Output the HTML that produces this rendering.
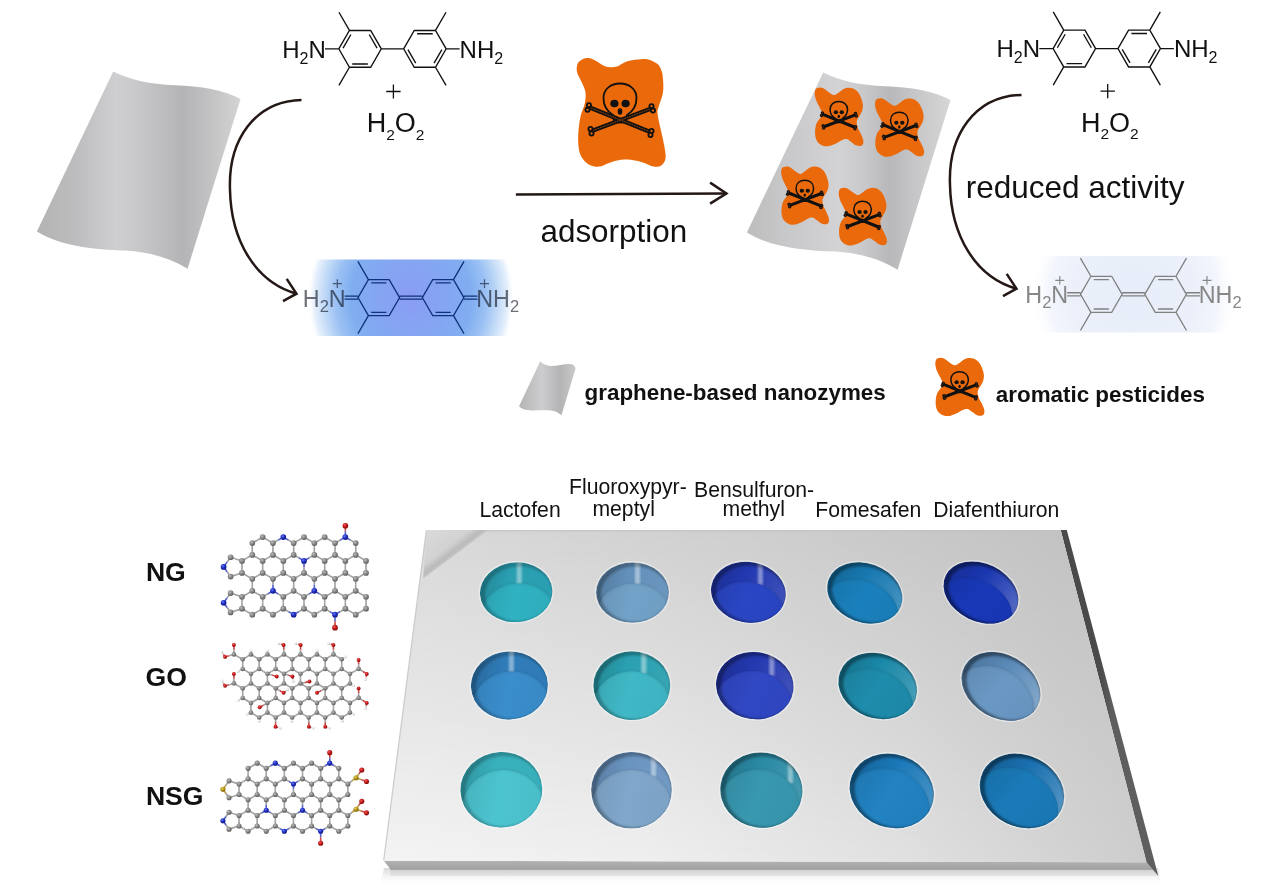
<!DOCTYPE html><html><head><meta charset="utf-8"><style>html,body{margin:0;padding:0;background:#fff;overflow:hidden;}svg{display:block;}</style></head><body><svg width="1270" height="891" viewBox="0 0 1270 891"><defs><linearGradient id="sheetG" gradientUnits="userSpaceOnUse" x1="37" y1="0" x2="241" y2="0">
<stop offset="0" stop-color="#b3b3b3"/><stop offset="0.19" stop-color="#bdbdbf"/><stop offset="0.39" stop-color="#cfcfd1"/>
<stop offset="0.52" stop-color="#c6c6c8"/><stop offset="0.715" stop-color="#b4b4b6"/><stop offset="0.81" stop-color="#bebec0"/>
<stop offset="1" stop-color="#d4d4d4"/></linearGradient><linearGradient id="sheetG2" gradientUnits="userSpaceOnUse" x1="37" y1="0" x2="241" y2="0">
<stop offset="0" stop-color="#bdbdbd"/><stop offset="0.19" stop-color="#c8c8ca"/><stop offset="0.45" stop-color="#d3d3d5"/>
<stop offset="0.58" stop-color="#c8c8ca"/><stop offset="0.70" stop-color="#b8b8ba"/><stop offset="0.82" stop-color="#c6c6c8"/>
<stop offset="1" stop-color="#d6d6d6"/></linearGradient><linearGradient id="sheetG3" gradientUnits="userSpaceOnUse" x1="519" y1="0" x2="576" y2="0">
<stop offset="0" stop-color="#b4b4b4"/><stop offset="0.4" stop-color="#cdcdcf"/><stop offset="0.72" stop-color="#b4b4b6"/>
<stop offset="1" stop-color="#cacaca"/></linearGradient><g id="skull" fill="none" stroke="#111" stroke-linecap="round">
<path d="M-7,7 C-12,4 -16.5,-2 -16.5,-10 C-16.5,-19 -9,-24.5 0,-24.5 C9,-24.5 16.5,-19 16.5,-10 C16.5,-2 12,4 7,7 L6,13.5 C3,15 -3,15 -6,13.5 Z" stroke-width="1.8"/>
<g stroke-width="4.3"><line x1="-29" y1="0" x2="29" y2="23.5"/><line x1="-27" y1="22.5" x2="30" y2="1"/></g>
<g stroke-width="0.86" stroke="#ea6a0b" stroke-opacity="0.7" stroke-dasharray="1 1.6"><line x1="-29" y1="0" x2="29" y2="23.5"/><line x1="-27" y1="22.5" x2="30" y2="1"/></g>
<g fill="#111" stroke="none">
<circle cx="-31" cy="-2.8" r="3.0"/><circle cx="-32.5" cy="1.8" r="3.0"/>
<circle cx="31.5" cy="23" r="3.0"/><circle cx="30.5" cy="27" r="3.0"/>
<circle cx="-29.5" cy="21" r="3.0"/><circle cx="-28.5" cy="25.5" r="3.0"/>
<circle cx="31.5" cy="-1.8" r="3.0"/><circle cx="33" cy="2.6" r="3.0"/>
<ellipse cx="-5.6" cy="-4.5" rx="4.1" ry="3.8"/><ellipse cx="5.6" cy="-4.5" rx="4.1" ry="3.8"/>
<ellipse cx="0" cy="3.5" rx="2.3" ry="3.2"/></g>
<g fill="#ea6a0b" stroke="none" opacity="1">
<circle cx="-31" cy="-2.8" r="1.1400000000000001"/><circle cx="-32.5" cy="1.8" r="1.1400000000000001"/>
<circle cx="31.5" cy="23" r="1.1400000000000001"/><circle cx="30.5" cy="27" r="1.1400000000000001"/>
<circle cx="-29.5" cy="21" r="1.1400000000000001"/><circle cx="-28.5" cy="25.5" r="1.1400000000000001"/>
<circle cx="31.5" cy="-1.8" r="1.1400000000000001"/><circle cx="33" cy="2.6" r="1.1400000000000001"/></g>
</g><g id="skullS" fill="none" stroke="#111" stroke-linecap="round">
<path d="M-7,7 C-12,4 -16.5,-2 -16.5,-10 C-16.5,-19 -9,-24.5 0,-24.5 C9,-24.5 16.5,-19 16.5,-10 C16.5,-2 12,4 7,7 L6,13.5 C3,15 -3,15 -6,13.5 Z" stroke-width="2.8"/>
<g stroke-width="5.8"><line x1="-29" y1="0" x2="29" y2="23.5"/><line x1="-27" y1="22.5" x2="30" y2="1"/></g>

<g fill="#111" stroke="none">
<circle cx="-31" cy="-2.8" r="3.3"/><circle cx="-32.5" cy="1.8" r="3.3"/>
<circle cx="31.5" cy="23" r="3.3"/><circle cx="30.5" cy="27" r="3.3"/>
<circle cx="-29.5" cy="21" r="3.3"/><circle cx="-28.5" cy="25.5" r="3.3"/>
<circle cx="31.5" cy="-1.8" r="3.3"/><circle cx="33" cy="2.6" r="3.3"/>
<ellipse cx="-5.6" cy="-4.5" rx="4.1" ry="3.8"/><ellipse cx="5.6" cy="-4.5" rx="4.1" ry="3.8"/>
<ellipse cx="0" cy="3.5" rx="2.3" ry="3.2"/></g>
<g fill="#ea6a0b" stroke="none" opacity="0.35">
<circle cx="-31" cy="-2.8" r="1.254"/><circle cx="-32.5" cy="1.8" r="1.254"/>
<circle cx="31.5" cy="23" r="1.254"/><circle cx="30.5" cy="27" r="1.254"/>
<circle cx="-29.5" cy="21" r="1.254"/><circle cx="-28.5" cy="25.5" r="1.254"/>
<circle cx="31.5" cy="-1.8" r="1.254"/><circle cx="33" cy="2.6" r="1.254"/></g>
</g><radialGradient id="glowB" gradientUnits="userSpaceOnUse" cx="411" cy="298" r="108" gradientTransform="translate(0,298) scale(1,1.1) translate(0,-298)">
<stop offset="0" stop-color="#8a9cf4"/><stop offset="0.35" stop-color="#84a6f2"/><stop offset="0.56" stop-color="#80aef0"/>
<stop offset="0.7" stop-color="#9cc2f4"/><stop offset="0.78" stop-color="#b8d4f6"/><stop offset="0.9" stop-color="#e6f0fc"/><stop offset="0.96" stop-color="#ffffff" stop-opacity="0"/></radialGradient><radialGradient id="glowF" gradientUnits="userSpaceOnUse" cx="1134" cy="294.3" r="108" gradientTransform="translate(0,294.3) scale(1,1.1) translate(0,-294.3)">
<stop offset="0" stop-color="#e7edf9"/><stop offset="0.56" stop-color="#ebf0fa"/><stop offset="0.78" stop-color="#f2f5fc"/><stop offset="0.96" stop-color="#ffffff" stop-opacity="0"/></radialGradient><linearGradient id="plateTop" gradientUnits="userSpaceOnUse" x1="383" y1="862" x2="834" y2="336">
<stop offset="0" stop-color="#f5f5f5"/><stop offset="0.5" stop-color="#dedede"/><stop offset="1" stop-color="#c0c0c0"/></linearGradient><linearGradient id="plateFront" gradientUnits="userSpaceOnUse" x1="0" y1="861" x2="0" y2="876">
<stop offset="0" stop-color="#b2b2b2"/><stop offset="0.56" stop-color="#a0a0a0"/><stop offset="0.6" stop-color="#d2d2d2"/><stop offset="1" stop-color="#e6e6e6"/></linearGradient><linearGradient id="plateSide" gradientUnits="userSpaceOnUse" x1="1100" y1="0" x2="1112" y2="0">
<stop offset="0" stop-color="#4a4a4a"/><stop offset="1" stop-color="#5e5e5e"/></linearGradient><linearGradient id="shadowG" gradientUnits="userSpaceOnUse" x1="0" y1="868" x2="0" y2="886">
<stop offset="0" stop-color="#d8d8d8"/><stop offset="1" stop-color="#ffffff" stop-opacity="0"/></linearGradient><filter id="blur1" x="-20%" y="-20%" width="140%" height="140%"><feGaussianBlur stdDeviation="1.2"/></filter><filter id="blur2" x="-20%" y="-20%" width="140%" height="140%"><feGaussianBlur stdDeviation="2.5"/></filter><linearGradient id="triG" gradientUnits="userSpaceOnUse" x1="426.5" y1="530.1" x2="448.7" y2="559.7">
<stop offset="0" stop-color="#dadada"/><stop offset="0.7" stop-color="#d2d2d2"/><stop offset="0.9" stop-color="#bababa"/><stop offset="1" stop-color="#c6c6c6"/></linearGradient><linearGradient id="pBot" gradientUnits="userSpaceOnUse" x1="384" y1="0" x2="1146" y2="0">
<stop offset="0" stop-color="#f4f4f4"/><stop offset="0.35" stop-color="#efefef"/><stop offset="0.68" stop-color="#e1e1e1"/><stop offset="1" stop-color="#cdcdcd"/></linearGradient>
<linearGradient id="pTop" gradientUnits="userSpaceOnUse" x1="426" y1="0" x2="1061" y2="0">
<stop offset="0" stop-color="#d8d8d8"/><stop offset="0.51" stop-color="#cecece"/><stop offset="1" stop-color="#c2c2c2"/></linearGradient>
<linearGradient id="vmaskG" gradientUnits="userSpaceOnUse" x1="0" y1="530" x2="0" y2="862"><stop offset="0" stop-color="#fff"/><stop offset="1" stop-color="#000"/></linearGradient>
<mask id="mTop" maskUnits="userSpaceOnUse" x="370" y="520" width="800" height="360"><rect x="370" y="520" width="800" height="360" fill="url(#vmaskG)"/></mask><clipPath id="wc0"><ellipse cx="516.2" cy="592.2" rx="36.3" ry="29.8" transform="rotate(-4 516.2 592.2)"/></clipPath><linearGradient id="wg0" x1="0" y1="0" x2="1" y2="0.3"><stop offset="0" stop-color="#217f8e"/><stop offset="0.45" stop-color="#2a9fb2"/><stop offset="1" stop-color="#2a9fb2"/></linearGradient>
<linearGradient id="fg0" x1="0" y1="0" x2="1" y2="0.2"><stop offset="0" stop-color="#2ba0ae"/><stop offset="0.5" stop-color="#30b2c2"/><stop offset="1" stop-color="#2eacbc"/></linearGradient><clipPath id="wc1"><ellipse cx="632.5" cy="592.5" rx="36.4" ry="30.1" transform="rotate(0 632.5 592.5)"/></clipPath><linearGradient id="wg1" x1="0" y1="0" x2="1" y2="0.3"><stop offset="0" stop-color="#4e7394"/><stop offset="0.45" stop-color="#6290ba"/><stop offset="1" stop-color="#6b96be"/></linearGradient>
<linearGradient id="fg1" x1="0" y1="0" x2="1" y2="0.2"><stop offset="0" stop-color="#6691b4"/><stop offset="0.5" stop-color="#72a2c8"/><stop offset="1" stop-color="#6e9dc2"/></linearGradient><clipPath id="wc2"><ellipse cx="748.4" cy="592.2" rx="37.6" ry="30.2" transform="rotate(10 748.4 592.2)"/></clipPath><linearGradient id="wg2" x1="0" y1="0" x2="1" y2="0.3"><stop offset="0" stop-color="#1b2c8c"/><stop offset="0.45" stop-color="#2238b0"/><stop offset="1" stop-color="#3c4fb9"/></linearGradient>
<linearGradient id="fg2" x1="0" y1="0" x2="1" y2="0.2"><stop offset="0" stop-color="#253fb0"/><stop offset="0.5" stop-color="#2a46c4"/><stop offset="1" stop-color="#2843be"/></linearGradient><clipPath id="wc3"><ellipse cx="864.8" cy="592.8" rx="38.6" ry="29.4" transform="rotate(20 864.8 592.8)"/></clipPath><linearGradient id="wg3" x1="0" y1="0" x2="1" y2="0.3"><stop offset="0" stop-color="#12608c"/><stop offset="0.45" stop-color="#1778b0"/><stop offset="1" stop-color="#4090be"/></linearGradient>
<linearGradient id="fg3" x1="0" y1="0" x2="1" y2="0.2"><stop offset="0" stop-color="#1773a9"/><stop offset="0.5" stop-color="#1a80bc"/><stop offset="1" stop-color="#197cb6"/></linearGradient><clipPath id="wc4"><ellipse cx="981" cy="592.5" rx="39.2" ry="28.8" transform="rotate(26 981 592.5)"/></clipPath><linearGradient id="wg4" x1="0" y1="0" x2="1" y2="0.3"><stop offset="0" stop-color="#142b8c"/><stop offset="0.45" stop-color="#1a36b0"/><stop offset="1" stop-color="#5066c2"/></linearGradient>
<linearGradient id="fg4" x1="0" y1="0" x2="1" y2="0.2"><stop offset="0" stop-color="#1532a5"/><stop offset="0.5" stop-color="#1838b8"/><stop offset="1" stop-color="#1736b2"/></linearGradient><clipPath id="wc5"><ellipse cx="509.4" cy="685.4" rx="38.5" ry="34" transform="rotate(-3 509.4 685.4)"/></clipPath><linearGradient id="wg5" x1="0" y1="0" x2="1" y2="0.3"><stop offset="0" stop-color="#256393"/><stop offset="0.45" stop-color="#2f7cb8"/><stop offset="1" stop-color="#2f7cb8"/></linearGradient>
<linearGradient id="fg5" x1="0" y1="0" x2="1" y2="0.2"><stop offset="0" stop-color="#347fb7"/><stop offset="0.5" stop-color="#3a8ecc"/><stop offset="1" stop-color="#3889c5"/></linearGradient><clipPath id="wc6"><ellipse cx="631.8" cy="685.6" rx="38.5" ry="34.3" transform="rotate(0 631.8 685.6)"/></clipPath><linearGradient id="wg6" x1="0" y1="0" x2="1" y2="0.3"><stop offset="0" stop-color="#21808c"/><stop offset="0.45" stop-color="#2aa0b0"/><stop offset="1" stop-color="#36a5b4"/></linearGradient>
<linearGradient id="fg6" x1="0" y1="0" x2="1" y2="0.2"><stop offset="0" stop-color="#39a5b2"/><stop offset="0.5" stop-color="#40b8c6"/><stop offset="1" stop-color="#3eb2c0"/></linearGradient><clipPath id="wc7"><ellipse cx="754.8" cy="685.6" rx="38.9" ry="33.6" transform="rotate(8 754.8 685.6)"/></clipPath><linearGradient id="wg7" x1="0" y1="0" x2="1" y2="0.3"><stop offset="0" stop-color="#1c2c8c"/><stop offset="0.45" stop-color="#2438b0"/><stop offset="1" stop-color="#3e4fb9"/></linearGradient>
<linearGradient id="fg7" x1="0" y1="0" x2="1" y2="0.2"><stop offset="0" stop-color="#2b40b0"/><stop offset="0.5" stop-color="#3048c4"/><stop offset="1" stop-color="#2e45be"/></linearGradient><clipPath id="wc8"><ellipse cx="877.7" cy="685.9" rx="40.2" ry="32.2" transform="rotate(20 877.7 685.9)"/></clipPath><linearGradient id="wg8" x1="0" y1="0" x2="1" y2="0.3"><stop offset="0" stop-color="#146c86"/><stop offset="0.45" stop-color="#1a88a8"/><stop offset="1" stop-color="#439db7"/></linearGradient>
<linearGradient id="fg8" x1="0" y1="0" x2="1" y2="0.2"><stop offset="0" stop-color="#1b7e9a"/><stop offset="0.5" stop-color="#1e8cac"/><stop offset="1" stop-color="#1d87a6"/></linearGradient><clipPath id="wc9"><ellipse cx="1001" cy="686.3" rx="41.7" ry="31.6" transform="rotate(30 1001 686.3)"/></clipPath><linearGradient id="wg9" x1="0" y1="0" x2="1" y2="0.3"><stop offset="0" stop-color="#486e93"/><stop offset="0.45" stop-color="#5a8ab8"/><stop offset="1" stop-color="#81a6c9"/></linearGradient>
<linearGradient id="fg9" x1="0" y1="0" x2="1" y2="0.2"><stop offset="0" stop-color="#5f88b0"/><stop offset="0.5" stop-color="#6a98c4"/><stop offset="1" stop-color="#6693be"/></linearGradient><clipPath id="wc10"><ellipse cx="501.3" cy="789.7" rx="41" ry="37.7" transform="rotate(-3 501.3 789.7)"/></clipPath><linearGradient id="wg10" x1="0" y1="0" x2="1" y2="0.3"><stop offset="0" stop-color="#2c8c96"/><stop offset="0.45" stop-color="#38b0bc"/><stop offset="1" stop-color="#38b0bc"/></linearGradient>
<linearGradient id="fg10" x1="0" y1="0" x2="1" y2="0.2"><stop offset="0" stop-color="#44b0bb"/><stop offset="0.5" stop-color="#4cc4d0"/><stop offset="1" stop-color="#49bec9"/></linearGradient><clipPath id="wc11"><ellipse cx="631.5" cy="790.1" rx="40.4" ry="38.2" transform="rotate(0 631.5 790.1)"/></clipPath><linearGradient id="wg11" x1="0" y1="0" x2="1" y2="0.3"><stop offset="0" stop-color="#547699"/><stop offset="0.45" stop-color="#6a94c0"/><stop offset="1" stop-color="#729ac3"/></linearGradient>
<linearGradient id="fg11" x1="0" y1="0" x2="1" y2="0.2"><stop offset="0" stop-color="#7397b7"/><stop offset="0.5" stop-color="#80a8cc"/><stop offset="1" stop-color="#7ca2c5"/></linearGradient><clipPath id="wc12"><ellipse cx="761.4" cy="790.1" rx="41.2" ry="37.6" transform="rotate(8 761.4 790.1)"/></clipPath><linearGradient id="wg12" x1="0" y1="0" x2="1" y2="0.3"><stop offset="0" stop-color="#216e83"/><stop offset="0.45" stop-color="#2a8aa4"/><stop offset="1" stop-color="#4398ae"/></linearGradient>
<linearGradient id="fg12" x1="0" y1="0" x2="1" y2="0.2"><stop offset="0" stop-color="#32889e"/><stop offset="0.5" stop-color="#3898b0"/><stop offset="1" stop-color="#3693aa"/></linearGradient><clipPath id="wc13"><ellipse cx="891.8" cy="790.9" rx="42.8" ry="36.6" transform="rotate(20 891.8 790.9)"/></clipPath><linearGradient id="wg13" x1="0" y1="0" x2="1" y2="0.3"><stop offset="0" stop-color="#146093"/><stop offset="0.45" stop-color="#1a78b8"/><stop offset="1" stop-color="#4390c4"/></linearGradient>
<linearGradient id="fg13" x1="0" y1="0" x2="1" y2="0.2"><stop offset="0" stop-color="#1e75ae"/><stop offset="0.5" stop-color="#2282c2"/><stop offset="1" stop-color="#207ebc"/></linearGradient><clipPath id="wc14"><ellipse cx="1022" cy="790.9" rx="43.6" ry="35.6" transform="rotate(26 1022 790.9)"/></clipPath><linearGradient id="wg14" x1="0" y1="0" x2="1" y2="0.3"><stop offset="0" stop-color="#14598c"/><stop offset="0.45" stop-color="#1a70b0"/><stop offset="1" stop-color="#5092c2"/></linearGradient>
<linearGradient id="fg14" x1="0" y1="0" x2="1" y2="0.2"><stop offset="0" stop-color="#176da5"/><stop offset="0.5" stop-color="#1a7ab8"/><stop offset="1" stop-color="#1976b2"/></linearGradient><radialGradient id="aC" cx="0.38" cy="0.35" r="0.65"><stop offset="0" stop-color="#bcbcbc"/><stop offset="0.5" stop-color="#8a8a8a"/><stop offset="1" stop-color="#5e5e5e"/></radialGradient>
<radialGradient id="aN" cx="0.38" cy="0.35" r="0.65"><stop offset="0" stop-color="#6a7af0"/><stop offset="0.5" stop-color="#2030c8"/><stop offset="1" stop-color="#101880"/></radialGradient>
<radialGradient id="aO" cx="0.38" cy="0.35" r="0.65"><stop offset="0" stop-color="#f06060"/><stop offset="0.5" stop-color="#c81818"/><stop offset="1" stop-color="#801010"/></radialGradient>
<radialGradient id="aH" cx="0.38" cy="0.35" r="0.65"><stop offset="0" stop-color="#ffffff"/><stop offset="0.6" stop-color="#e6e6e6"/><stop offset="1" stop-color="#b0b0b0"/></radialGradient>
<radialGradient id="aS" cx="0.38" cy="0.35" r="0.65"><stop offset="0" stop-color="#e8d060"/><stop offset="0.5" stop-color="#b89818"/><stop offset="1" stop-color="#806408"/></radialGradient></defs><path d="M113.2,71.6 C130,80 150,84.5 175,85.2 C200,86 225,90 240.5,99 L187.6,268.7 C170,258 150,252 125,250.5 C95,249.5 60,246 36.9,231.4 Z" fill="url(#sheetG)"/>
<path d="M113.2,71.6 C130,80 150,84.5 175,85.2 C200,86 225,90 240.5,99 L187.6,268.7 C170,258 150,252 125,250.5 C95,249.5 60,246 36.9,231.4 Z" fill="url(#sheetG2)" transform="translate(710,1)"/>
<path d="M540.3,361.3 C543,364 546,366 551,366 C558,366 565,363.5 571,364 C573,364.5 575,366 575.6,368.5 L561.5,415.3 C558,412 554,410.3 545,410.2 C535,410 525,412 519,406.2 Z" fill="url(#sheetG3)"/>
<path d="M576.7,69.5 C576.7,67.48 576.97,64.6 578.1,62.8 C579.23,61 581.7,59.48 583.5,58.7 C585.3,57.92 586.65,57.65 588.9,58.1 C591.15,58.55 594.32,60.05 597,61.4 C599.68,62.75 601.87,65.3 605,66.2 C608.13,67.1 612.2,67.6 615.8,66.8 C619.4,66 623,62.63 626.6,61.4 C630.2,60.17 633.8,59.73 637.4,59.4 C641,59.07 644.83,58.62 648.2,59.4 C651.57,60.18 655.37,62.18 657.6,64.1 C659.83,66.02 660.7,68.42 661.6,70.9 C662.5,73.38 662.77,75.42 663,79 C663.23,82.58 663.68,87.92 663,92.4 C662.32,96.88 659.82,102.47 658.9,105.9 C657.98,109.33 657.27,109.4 657.5,113 C657.73,116.6 659.38,123.07 660.3,127.5 C661.22,131.93 662.1,134.67 663,139.6 C663.9,144.53 665.93,152.83 665.7,157.1 C665.47,161.37 663.62,163.62 661.6,165.2 C659.58,166.78 656.73,167.05 653.6,166.6 C650.47,166.15 646.63,163.63 642.8,162.5 C638.97,161.37 634.2,160.25 630.6,159.8 C627,159.35 624.57,159.35 621.2,159.8 C617.83,160.25 614,161.37 610.4,162.5 C606.8,163.63 602.97,166.15 599.6,166.6 C596.23,167.05 592.88,166.33 590.2,165.2 C587.52,164.07 585.3,162.05 583.5,159.8 C581.7,157.55 580.3,155.07 579.4,151.7 C578.5,148.33 578.2,143.63 578.1,139.6 C578,135.57 578.35,131.55 578.8,127.5 C579.25,123.45 579.8,119.35 580.8,115.3 C581.8,111.25 584.02,107.02 584.8,103.2 C585.58,99.38 585.95,95.77 585.5,92.4 C585.05,89.03 583.33,85.92 582.1,83 C580.87,80.08 579,77.15 578.1,74.9 C577.2,72.65 576.7,71.52 576.7,69.5 Z" fill="#ea6a0b"/>
<use href="#skull" transform="translate(620,108)"/>
<path d="M815.16,90.27 C815.58,89.17 816.24,88.5 817.31,88.07 C818.39,87.64 820.19,87.39 821.63,87.7 C823.06,88.01 824.5,88.99 825.94,89.9 C827.37,90.82 828.81,92.35 830.25,93.21 C831.69,94.07 833.12,95.17 834.56,95.05 C836,94.92 837.43,93.45 838.87,92.47 C840.31,91.5 841.74,89.96 843.18,89.17 C844.62,88.37 845.82,87.82 847.49,87.7 C849.17,87.58 851.44,87.64 853.24,88.43 C855.04,89.23 856.89,90.7 858.27,92.47 C859.65,94.25 860.73,96.88 861.5,99.09 C862.28,101.29 862.88,103.62 862.94,105.7 C863,107.78 862.52,109.74 861.86,111.57 C861.2,113.41 859.83,115.12 858.99,116.72 C858.15,118.31 857.07,119.41 856.83,121.12 C856.59,122.84 856.95,125.04 857.55,127 C858.15,128.96 859.53,130.92 860.43,132.88 C861.32,134.84 862.46,137.04 862.94,138.75 C863.42,140.47 863.6,142 863.3,143.16 C863,144.32 862.34,145.37 861.14,145.73 C859.95,146.1 857.67,145.92 856.11,145.37 C854.56,144.81 853.36,143.47 851.8,142.43 C850.25,141.39 848.45,139.49 846.77,139.12 C845.1,138.75 843.54,139.49 841.74,140.22 C839.95,140.96 838.15,142.55 836,143.53 C833.84,144.51 830.97,145.73 828.81,146.1 C826.66,146.47 824.86,146.34 823.06,145.73 C821.27,145.12 819.29,143.84 818.03,142.43 C816.78,141.02 816,139.37 815.52,137.28 C815.04,135.2 814.98,132.27 815.16,129.94 C815.34,127.61 815.88,125.16 816.6,123.33 C817.31,121.49 818.57,120.27 819.47,118.92 C820.37,117.57 821.63,116.47 821.99,115.25 C822.34,114.02 822.1,113.04 821.63,111.57 C821.15,110.11 820.01,108.27 819.11,106.43 C818.21,104.6 816.96,102.51 816.24,100.56 C815.52,98.6 814.98,96.39 814.8,94.68 C814.62,92.96 814.74,91.37 815.16,90.27 Z" fill="#ea6a0b"/>
<use href="#skullS" transform="translate(838.81,114.56) scale(0.53)"/>
<path d="M875.46,101.05 C875.88,99.96 876.55,99.29 877.64,98.86 C878.72,98.44 880.53,98.2 881.98,98.5 C883.43,98.8 884.88,99.78 886.33,100.69 C887.78,101.6 889.23,103.12 890.68,103.97 C892.12,104.82 893.57,105.92 895.02,105.8 C896.47,105.67 897.92,104.21 899.37,103.24 C900.82,102.27 902.27,100.75 903.72,99.96 C905.16,99.17 906.37,98.62 908.06,98.5 C909.75,98.38 912.05,98.44 913.86,99.23 C915.67,100.02 917.54,101.48 918.93,103.24 C920.32,105.01 921.4,107.62 922.19,109.81 C922.97,112 923.58,114.31 923.64,116.37 C923.7,118.44 923.22,120.39 922.55,122.21 C921.89,124.03 920.5,125.74 919.65,127.32 C918.81,128.9 917.72,129.99 917.48,131.69 C917.24,133.4 917.6,135.59 918.2,137.53 C918.81,139.48 920.2,141.42 921.1,143.37 C922.01,145.31 923.15,147.5 923.64,149.2 C924.12,150.91 924.3,152.43 924,153.58 C923.7,154.74 923.03,155.77 921.83,156.14 C920.62,156.5 918.33,156.32 916.76,155.77 C915.19,155.22 913.98,153.89 912.41,152.85 C910.84,151.82 909.03,149.93 907.34,149.57 C905.65,149.2 904.08,149.93 902.27,150.66 C900.46,151.39 898.64,152.97 896.47,153.95 C894.3,154.92 891.4,156.14 889.23,156.5 C887.05,156.86 885.24,156.74 883.43,156.14 C881.62,155.53 879.63,154.25 878.36,152.85 C877.09,151.45 876.31,149.81 875.82,147.75 C875.34,145.68 875.28,142.76 875.46,140.45 C875.64,138.14 876.19,135.71 876.91,133.88 C877.64,132.06 878.9,130.84 879.81,129.51 C880.71,128.17 881.98,127.07 882.34,125.86 C882.71,124.64 882.47,123.67 881.98,122.21 C881.5,120.75 880.35,118.93 879.45,117.1 C878.54,115.28 877.27,113.21 876.55,111.27 C875.82,109.32 875.28,107.13 875.1,105.43 C874.92,103.73 875.04,102.15 875.46,101.05 Z" fill="#ea6a0b"/>
<use href="#skullS" transform="translate(899.31,125.18) scale(0.53)"/>
<path d="M781.55,169.15 C781.97,168.06 782.61,167.39 783.67,166.96 C784.73,166.54 786.5,166.3 787.91,166.6 C789.33,166.9 790.74,167.87 792.15,168.78 C793.57,169.7 794.98,171.21 796.39,172.06 C797.81,172.91 799.22,174 800.63,173.88 C802.05,173.76 803.46,172.31 804.87,171.33 C806.29,170.36 807.7,168.85 809.11,168.06 C810.53,167.27 811.7,166.72 813.35,166.6 C815,166.48 817.24,166.54 819.01,167.33 C820.77,168.12 822.6,169.57 823.95,171.33 C825.31,173.09 826.37,175.7 827.13,177.89 C827.9,180.07 828.49,182.38 828.55,184.44 C828.61,186.51 828.13,188.45 827.49,190.27 C826.84,192.09 825.48,193.79 824.66,195.37 C823.84,196.95 822.78,198.04 822.54,199.74 C822.3,201.44 822.66,203.62 823.25,205.56 C823.84,207.51 825.19,209.45 826.07,211.39 C826.96,213.33 828.08,215.52 828.55,217.22 C829.02,218.92 829.19,220.43 828.9,221.59 C828.61,222.74 827.96,223.77 826.78,224.14 C825.6,224.5 823.36,224.32 821.83,223.77 C820.3,223.23 819.12,221.89 817.59,220.86 C816.06,219.83 814.3,217.95 812.65,217.58 C811,217.22 809.47,217.95 807.7,218.67 C805.93,219.4 804.17,220.98 802.05,221.95 C799.93,222.92 797.1,224.14 794.98,224.5 C792.86,224.86 791.09,224.74 789.33,224.14 C787.56,223.53 785.62,222.25 784.38,220.86 C783.14,219.46 782.38,217.82 781.91,215.76 C781.44,213.7 781.38,210.78 781.55,208.48 C781.73,206.17 782.26,203.74 782.97,201.92 C783.67,200.1 784.91,198.89 785.79,197.55 C786.68,196.22 787.91,195.13 788.27,193.91 C788.62,192.7 788.38,191.73 787.91,190.27 C787.44,188.81 786.32,186.99 785.44,185.17 C784.56,183.35 783.32,181.29 782.61,179.35 C781.91,177.4 781.38,175.22 781.2,173.52 C781.02,171.82 781.14,170.24 781.55,169.15 Z" fill="#ea6a0b"/>
<use href="#skullS" transform="translate(804.81,193.23) scale(0.53)"/>
<path d="M839.16,190.43 C839.57,189.34 840.22,188.68 841.29,188.26 C842.36,187.84 844.13,187.6 845.56,187.9 C846.98,188.2 848.4,189.16 849.82,190.07 C851.24,190.97 852.67,192.47 854.09,193.32 C855.51,194.16 856.93,195.24 858.36,195.12 C859.78,195 861.2,193.56 862.62,192.59 C864.04,191.63 865.47,190.13 866.89,189.34 C868.31,188.56 869.5,188.02 871.16,187.9 C872.81,187.78 875.07,187.84 876.84,188.62 C878.62,189.4 880.46,190.85 881.82,192.59 C883.19,194.34 884.25,196.93 885.02,199.09 C885.79,201.26 886.39,203.54 886.44,205.59 C886.5,207.64 886.03,209.56 885.38,211.37 C884.73,213.17 883.36,214.86 882.53,216.42 C881.7,217.98 880.64,219.07 880.4,220.75 C880.16,222.44 880.52,224.6 881.11,226.53 C881.7,228.45 883.07,230.38 883.96,232.3 C884.84,234.23 885.97,236.4 886.44,238.08 C886.92,239.76 887.1,241.27 886.8,242.41 C886.5,243.56 885.85,244.58 884.67,244.94 C883.48,245.3 881.23,245.12 879.69,244.58 C878.15,244.04 876.96,242.71 875.42,241.69 C873.88,240.67 872.1,238.8 870.44,238.44 C868.79,238.08 867.24,238.8 865.47,239.52 C863.69,240.25 861.91,241.81 859.78,242.77 C857.64,243.74 854.8,244.94 852.67,245.3 C850.53,245.66 848.76,245.54 846.98,244.94 C845.2,244.34 843.24,243.07 842,241.69 C840.76,240.31 839.99,238.68 839.51,236.64 C839.04,234.59 838.98,231.7 839.16,229.42 C839.33,227.13 839.87,224.72 840.58,222.92 C841.29,221.11 842.53,219.91 843.42,218.59 C844.31,217.26 845.56,216.18 845.91,214.98 C846.27,213.77 846.03,212.81 845.56,211.37 C845.08,209.92 843.96,208.12 843.07,206.31 C842.18,204.51 840.93,202.46 840.22,200.54 C839.51,198.61 838.98,196.44 838.8,194.76 C838.62,193.07 838.74,191.51 839.16,190.43 Z" fill="#ea6a0b"/>
<use href="#skullS" transform="translate(862.56,214.3) scale(0.53)"/>
<path d="M935.76,360.55 C936.18,359.46 936.85,358.79 937.94,358.36 C939.02,357.94 940.83,357.7 942.28,358 C943.73,358.3 945.18,359.27 946.63,360.18 C948.08,361.1 949.53,362.61 950.98,363.46 C952.42,364.31 953.87,365.4 955.32,365.28 C956.77,365.16 958.22,363.71 959.67,362.73 C961.12,361.76 962.57,360.25 964.02,359.46 C965.46,358.67 966.67,358.12 968.36,358 C970.05,357.88 972.35,357.94 974.16,358.73 C975.97,359.52 977.84,360.97 979.23,362.73 C980.62,364.49 981.7,367.1 982.49,369.29 C983.27,371.47 983.88,373.78 983.94,375.84 C984,377.91 983.52,379.85 982.85,381.67 C982.19,383.49 980.8,385.19 979.95,386.77 C979.11,388.35 978.02,389.44 977.78,391.14 C977.54,392.84 977.9,395.02 978.5,396.96 C979.11,398.91 980.5,400.85 981.4,402.79 C982.31,404.73 983.45,406.92 983.94,408.62 C984.42,410.32 984.6,411.83 984.3,412.99 C984,414.14 983.33,415.17 982.13,415.54 C980.92,415.9 978.63,415.72 977.06,415.17 C975.49,414.63 974.28,413.29 972.71,412.26 C971.14,411.23 969.33,409.35 967.64,408.98 C965.95,408.62 964.38,409.35 962.57,410.07 C960.76,410.8 958.94,412.38 956.77,413.35 C954.6,414.32 951.7,415.54 949.53,415.9 C947.35,416.26 945.54,416.14 943.73,415.54 C941.92,414.93 939.93,413.65 938.66,412.26 C937.39,410.86 936.61,409.22 936.12,407.16 C935.64,405.1 935.58,402.18 935.76,399.88 C935.94,397.57 936.49,395.14 937.21,393.32 C937.94,391.5 939.2,390.29 940.11,388.95 C941.01,387.62 942.28,386.53 942.64,385.31 C943.01,384.1 942.77,383.13 942.28,381.67 C941.8,380.21 940.65,378.39 939.75,376.57 C938.84,374.75 937.57,372.69 936.85,370.75 C936.12,368.8 935.58,366.62 935.4,364.92 C935.22,363.22 935.34,361.64 935.76,360.55 Z" fill="#ea6a0b"/>
<use href="#skullS" transform="translate(959.61,384.63) scale(0.53)"/>
<g fill="none" stroke="#231815" stroke-width="2.5" stroke-linecap="butt">
<path d="M301.5,99.9 C255,101 228,140 230,190 C231,240 255,282 296.5,293.7"/><path d="M286.7,278.9 L296.5,293.7 L283,301.1"/>
<path d="M301.5,99.9 C255,101 228,140 230,190 C231,240 255,282 296.5,293.7" transform="translate(720,-5)"/><path d="M286.7,278.9 L296.5,293.7 L283,301.1" transform="translate(720,-5)"/>
<path d="M515.9,194.6 L726.4,193.5"/><path d="M710.1,182.6 L726.4,193.5 L710.1,203.6"/>
</g>
<text x="540.5" y="241.9" font-family="Liberation Sans, sans-serif" font-size="31.4" fill="#111">adsorption</text>
<text x="965.7" y="197.5" font-family="Liberation Sans, sans-serif" font-size="31.5" fill="#111">reduced activity</text>
<text x="584.6" y="399.7" font-family="Liberation Sans, sans-serif" font-size="22.4" font-weight="bold" fill="#111">graphene-based nanozymes</text>
<text x="995.8" y="402.2" font-family="Liberation Sans, sans-serif" font-size="22.4" font-weight="bold" fill="#111">aromatic pesticides</text>
<path d="M338.8,48.85 L349.43,30.45 L370.68,30.45 L381.3,48.85 L370.68,67.25 L349.43,67.25 Z M403.65,48.85 L414.27,30.45 L435.52,30.45 L446.15,48.85 L435.52,67.25 L414.27,67.25 Z M381.3,48.85 L403.65,48.85 M349.43,30.45 L338.93,12.26 M349.43,67.25 L338.93,85.44 M435.52,30.45 L446.02,12.26 M435.52,67.25 L446.02,85.44 M338.8,48.85 L325,48.85 M446.15,48.85 L459.6,48.85 M343.06,48.07 L350.88,34.53 M369.22,34.53 L377.04,48.07 M352.23,63.95 L367.87,63.95 M417.08,33.75 L432.72,33.75 M407.91,49.63 L415.73,63.17 M441.89,49.63 L434.07,63.17 " fill="none" stroke="#111" stroke-width="1.35" stroke-linejoin="miter"/><text x="282.2" y="57.8" font-family="Liberation Sans, sans-serif" font-size="24" fill="#111">H<tspan font-size="16" dy="5.8">2</tspan><tspan dy="-5.8">N</tspan></text><text x="459.6" y="57.8" font-family="Liberation Sans, sans-serif" font-size="24" fill="#111">NH<tspan font-size="16" dy="5.8">2</tspan></text><path d="M386.2,91.5 L400.6,91.5 M393.4,84.4 L393.4,98.6" stroke="#111" stroke-width="1.3"/><text x="366.65" y="131.9" font-family="Liberation Sans, sans-serif" font-size="27" fill="#111">H<tspan font-size="15.5" dy="7.9">2</tspan><tspan dy="-7.9">O</tspan><tspan font-size="15.5" dy="7.9">2</tspan></text>
<g transform="translate(714.3,-0.3)"><path d="M338.8,48.85 L349.43,30.45 L370.68,30.45 L381.3,48.85 L370.68,67.25 L349.43,67.25 Z M403.65,48.85 L414.27,30.45 L435.52,30.45 L446.15,48.85 L435.52,67.25 L414.27,67.25 Z M381.3,48.85 L403.65,48.85 M349.43,30.45 L338.93,12.26 M349.43,67.25 L338.93,85.44 M435.52,30.45 L446.02,12.26 M435.52,67.25 L446.02,85.44 M338.8,48.85 L325,48.85 M446.15,48.85 L459.6,48.85 M343.06,48.07 L350.88,34.53 M369.22,34.53 L377.04,48.07 M352.23,63.95 L367.87,63.95 M417.08,33.75 L432.72,33.75 M407.91,49.63 L415.73,63.17 M441.89,49.63 L434.07,63.17 " fill="none" stroke="#111" stroke-width="1.35" stroke-linejoin="miter"/><text x="282.2" y="57.8" font-family="Liberation Sans, sans-serif" font-size="24" fill="#111">H<tspan font-size="16" dy="5.8">2</tspan><tspan dy="-5.8">N</tspan></text><text x="459.6" y="57.8" font-family="Liberation Sans, sans-serif" font-size="24" fill="#111">NH<tspan font-size="16" dy="5.8">2</tspan></text><path d="M386.2,91.5 L400.6,91.5 M393.4,84.4 L393.4,98.6" stroke="#111" stroke-width="1.3"/><text x="366.65" y="131.9" font-family="Liberation Sans, sans-serif" font-size="27" fill="#111">H<tspan font-size="15.5" dy="7.9">2</tspan><tspan dy="-7.9">O</tspan><tspan font-size="15.5" dy="7.9">2</tspan></text></g>
<rect x="305" y="259.5" width="211" height="76.5" fill="url(#glowB)"/>
<path d="M358,297.6 L368.4,279.59 L389.2,279.59 L399.6,297.6 L389.2,315.61 L368.4,315.61 Z M422.3,297.6 L432.7,279.59 L453.5,279.59 L463.9,297.6 L453.5,315.61 L432.7,315.61 Z M399.6,296.05 L422.3,296.05 M344.6,296.05 L358,296.05 M463.9,296.05 L477.5,296.05 M399.6,299.15 L422.3,299.15 M344.6,299.15 L358,299.15 M463.9,299.15 L477.5,299.15 M368.4,279.59 L357.9,261.4 M368.4,315.61 L357.9,333.8 M453.5,279.59 L464,261.4 M453.5,315.61 L464,333.8 M371.21,282.89 L386.39,282.89 M435.51,282.89 L450.69,282.89 M371.21,312.31 L386.39,312.31 M435.51,312.31 L450.69,312.31 " fill="none" stroke="#0f3278" stroke-width="1.3"/><g fill="#6d7078" style="mix-blend-mode:multiply"><text x="302.8" y="306.8" font-family="Liberation Sans, sans-serif" font-size="23.3">H<tspan font-size="16.5" dy="5">2</tspan><tspan dy="-5">N</tspan></text><text x="476.3" y="306.8" font-family="Liberation Sans, sans-serif" font-size="23.3">NH<tspan font-size="16.5" dy="5">2</tspan></text><path d="M332.8,283.6 L341.8,283.6 M337.3,279.3 L337.3,287.9 M480,283.6 L489,283.6 M484.5,279.3 L484.5,287.9" stroke="#6d7078" stroke-width="1.2"/></g>
<rect x="1028" y="256" width="212" height="76.5" fill="url(#glowF)"/>
<g transform="translate(722.5,-3.3)"><path d="M358,297.6 L368.4,279.59 L389.2,279.59 L399.6,297.6 L389.2,315.61 L368.4,315.61 Z M422.3,297.6 L432.7,279.59 L453.5,279.59 L463.9,297.6 L453.5,315.61 L432.7,315.61 Z M399.6,296.05 L422.3,296.05 M344.6,296.05 L358,296.05 M463.9,296.05 L477.5,296.05 M399.6,299.15 L422.3,299.15 M344.6,299.15 L358,299.15 M463.9,299.15 L477.5,299.15 M368.4,279.59 L357.9,261.4 M368.4,315.61 L357.9,333.8 M453.5,279.59 L464,261.4 M453.5,315.61 L464,333.8 M371.21,282.89 L386.39,282.89 M435.51,282.89 L450.69,282.89 M371.21,312.31 L386.39,312.31 M435.51,312.31 L450.69,312.31 " fill="none" stroke="#808080" stroke-width="1.3"/><g fill="#878787"><text x="302.8" y="306.8" font-family="Liberation Sans, sans-serif" font-size="23.3">H<tspan font-size="16.5" dy="5">2</tspan><tspan dy="-5">N</tspan></text><text x="476.3" y="306.8" font-family="Liberation Sans, sans-serif" font-size="23.3">NH<tspan font-size="16.5" dy="5">2</tspan></text><path d="M332.8,283.6 L341.8,283.6 M337.3,279.3 L337.3,287.9 M480,283.6 L489,283.6 M484.5,279.3 L484.5,287.9" stroke="#878787" stroke-width="1.2"/></g></g>
<path d="M384,868 L1158,868 L1162,886 L380,886 Z" fill="url(#shadowG)"/>
<path d="M383.9,860.8 L1146.5,862.2 L1158.3,875.9 L390.2,875.9 L390.2,869 Z" fill="url(#plateFront)"/>
<path d="M1060.6,530.1 L1066.8,530.1 L1158.3,875.9 L1146.5,862.2 Z" fill="url(#plateSide)"/>
<path d="M426.5,530.1 L1060.6,530.1 L1146.5,862.2 L383.9,860.8 Z" fill="url(#pBot)"/>
<path d="M426.5,530.1 L1060.6,530.1 L1146.5,862.2 L383.9,860.8 Z" fill="url(#pTop)" mask="url(#mTop)"/>
<path d="M1060,530.9 L426.5,530.9 M426.3,530.5 L383.7,860.5" fill="none" stroke="#c2c2c2" stroke-width="1.3" stroke-opacity="0.8"/>
<path d="M426.5,530.1 L488.2,530.1 L423.3,578.6 Z" fill="url(#triG)"/>
<ellipse cx="516.2" cy="592.2" rx="37.1" ry="30.6" transform="rotate(-4 516.2 592.2)" fill="none" stroke="#fbfcfe" stroke-width="1.2" stroke-opacity="0.45"/><g clip-path="url(#wc0)"><ellipse cx="516.2" cy="592.2" rx="36.3" ry="29.8" transform="rotate(-4 516.2 592.2)" fill="url(#wg0)"/><rect x="516.7" y="560.5" width="5" height="23.91" fill="#ffffff" fill-opacity="0.42" filter="url(#blur1)"/><ellipse cx="518.2" cy="613.2" rx="36.3" ry="29.8" transform="rotate(-4 518.2 613.2)" fill="url(#fg0)"/><ellipse cx="518.2" cy="613.2" rx="36.3" ry="29.8" transform="rotate(-4 518.2 613.2)" fill="none" stroke="#000" stroke-opacity="0.10" stroke-width="1.5" filter="url(#blur1)"/><ellipse cx="518.7" cy="593.7" rx="36.3" ry="29.8" transform="rotate(-4 518.7 593.7)" fill="none" stroke="#000" stroke-opacity="0.22" stroke-width="5" filter="url(#blur1)"/></g>
<ellipse cx="632.5" cy="592.5" rx="37.2" ry="30.9" transform="rotate(0 632.5 592.5)" fill="none" stroke="#fbfcfe" stroke-width="1.2" stroke-opacity="0.45"/><g clip-path="url(#wc1)"><ellipse cx="632.5" cy="592.5" rx="36.4" ry="30.1" transform="rotate(0 632.5 592.5)" fill="url(#wg1)"/><rect x="635" y="560.69" width="5" height="23.9" fill="#ffffff" fill-opacity="0.42" filter="url(#blur1)"/><ellipse cx="633.5" cy="613.5" rx="36.4" ry="30.1" transform="rotate(0 633.5 613.5)" fill="url(#fg1)"/><ellipse cx="633.5" cy="613.5" rx="36.4" ry="30.1" transform="rotate(0 633.5 613.5)" fill="none" stroke="#000" stroke-opacity="0.10" stroke-width="1.5" filter="url(#blur1)"/><ellipse cx="635" cy="594" rx="36.4" ry="30.1" transform="rotate(0 635 594)" fill="none" stroke="#000" stroke-opacity="0.27" stroke-width="5" filter="url(#blur1)"/></g>
<ellipse cx="748.4" cy="592.2" rx="38.4" ry="31" transform="rotate(10 748.4 592.2)" fill="none" stroke="#fbfcfe" stroke-width="1.2" stroke-opacity="0.45"/><g clip-path="url(#wc2)"><ellipse cx="748.4" cy="592.2" rx="37.6" ry="30.2" transform="rotate(10 748.4 592.2)" fill="url(#wg2)"/><rect x="757.9" y="561.58" width="5" height="23.28" fill="#ffffff" fill-opacity="0.42" filter="url(#blur1)"/><ellipse cx="747.4" cy="612.2" rx="37.6" ry="30.2" transform="rotate(10 747.4 612.2)" fill="url(#fg2)"/><ellipse cx="747.4" cy="612.2" rx="37.6" ry="30.2" transform="rotate(10 747.4 612.2)" fill="none" stroke="#000" stroke-opacity="0.10" stroke-width="1.5" filter="url(#blur1)"/><ellipse cx="750.9" cy="593.7" rx="37.6" ry="30.2" transform="rotate(10 750.9 593.7)" fill="none" stroke="#000" stroke-opacity="0.32" stroke-width="5" filter="url(#blur1)"/></g>
<ellipse cx="864.8" cy="592.8" rx="39.4" ry="30.2" transform="rotate(20 864.8 592.8)" fill="none" stroke="#fbfcfe" stroke-width="1.2" stroke-opacity="0.45"/><g clip-path="url(#wc3)"><ellipse cx="864.8" cy="592.8" rx="38.6" ry="29.4" transform="rotate(20 864.8 592.8)" fill="url(#wg3)"/><ellipse cx="860.8" cy="609.8" rx="38.6" ry="29.4" transform="rotate(20 860.8 609.8)" fill="url(#fg3)"/><ellipse cx="860.8" cy="609.8" rx="38.6" ry="29.4" transform="rotate(20 860.8 609.8)" fill="none" stroke="#000" stroke-opacity="0.10" stroke-width="1.5" filter="url(#blur1)"/><ellipse cx="867.3" cy="594.3" rx="38.6" ry="29.4" transform="rotate(20 867.3 594.3)" fill="none" stroke="#000" stroke-opacity="0.37" stroke-width="5" filter="url(#blur1)"/></g>
<ellipse cx="981" cy="592.5" rx="40" ry="29.6" transform="rotate(26 981 592.5)" fill="none" stroke="#fbfcfe" stroke-width="1.2" stroke-opacity="0.45"/><g clip-path="url(#wc4)"><ellipse cx="981" cy="592.5" rx="39.2" ry="28.8" transform="rotate(26 981 592.5)" fill="url(#wg4)"/><ellipse cx="975" cy="608.5" rx="39.2" ry="28.8" transform="rotate(26 975 608.5)" fill="url(#fg4)"/><ellipse cx="975" cy="608.5" rx="39.2" ry="28.8" transform="rotate(26 975 608.5)" fill="none" stroke="#000" stroke-opacity="0.10" stroke-width="1.5" filter="url(#blur1)"/><ellipse cx="983.5" cy="594" rx="39.2" ry="28.8" transform="rotate(26 983.5 594)" fill="none" stroke="#000" stroke-opacity="0.42" stroke-width="5" filter="url(#blur1)"/></g>
<ellipse cx="509.4" cy="685.4" rx="39.3" ry="34.8" transform="rotate(-3 509.4 685.4)" fill="none" stroke="#fbfcfe" stroke-width="1.2" stroke-opacity="0.45"/><g clip-path="url(#wc5)"><ellipse cx="509.4" cy="685.4" rx="38.5" ry="34" transform="rotate(-3 509.4 685.4)" fill="url(#wg5)"/><rect x="508.9" y="649.45" width="5" height="22.95" fill="#ffffff" fill-opacity="0.42" filter="url(#blur1)"/><ellipse cx="511.4" cy="705.4" rx="38.5" ry="34" transform="rotate(-3 511.4 705.4)" fill="url(#fg5)"/><ellipse cx="511.4" cy="705.4" rx="38.5" ry="34" transform="rotate(-3 511.4 705.4)" fill="none" stroke="#000" stroke-opacity="0.10" stroke-width="1.5" filter="url(#blur1)"/><ellipse cx="511.9" cy="686.9" rx="38.5" ry="34" transform="rotate(-3 511.9 686.9)" fill="none" stroke="#000" stroke-opacity="0.22" stroke-width="5" filter="url(#blur1)"/></g>
<ellipse cx="631.8" cy="685.6" rx="39.3" ry="35.1" transform="rotate(0 631.8 685.6)" fill="none" stroke="#fbfcfe" stroke-width="1.2" stroke-opacity="0.45"/><g clip-path="url(#wc6)"><ellipse cx="631.8" cy="685.6" rx="38.5" ry="34.3" transform="rotate(0 631.8 685.6)" fill="url(#wg6)"/><rect x="641.3" y="651.01" width="5" height="23" fill="#ffffff" fill-opacity="0.42" filter="url(#blur1)"/><ellipse cx="631.8" cy="705.6" rx="38.5" ry="34.3" transform="rotate(0 631.8 705.6)" fill="url(#fg6)"/><ellipse cx="631.8" cy="705.6" rx="38.5" ry="34.3" transform="rotate(0 631.8 705.6)" fill="none" stroke="#000" stroke-opacity="0.10" stroke-width="1.5" filter="url(#blur1)"/><ellipse cx="634.3" cy="687.1" rx="38.5" ry="34.3" transform="rotate(0 634.3 687.1)" fill="none" stroke="#000" stroke-opacity="0.27" stroke-width="5" filter="url(#blur1)"/></g>
<ellipse cx="754.8" cy="685.6" rx="39.7" ry="34.4" transform="rotate(8 754.8 685.6)" fill="none" stroke="#fbfcfe" stroke-width="1.2" stroke-opacity="0.45"/><g clip-path="url(#wc7)"><ellipse cx="754.8" cy="685.6" rx="38.9" ry="33.6" transform="rotate(8 754.8 685.6)" fill="url(#wg7)"/><rect x="769.3" y="653.38" width="5" height="22.44" fill="#ffffff" fill-opacity="0.42" filter="url(#blur1)"/><ellipse cx="753.8" cy="704.6" rx="38.9" ry="33.6" transform="rotate(8 753.8 704.6)" fill="url(#fg7)"/><ellipse cx="753.8" cy="704.6" rx="38.9" ry="33.6" transform="rotate(8 753.8 704.6)" fill="none" stroke="#000" stroke-opacity="0.10" stroke-width="1.5" filter="url(#blur1)"/><ellipse cx="757.3" cy="687.1" rx="38.9" ry="33.6" transform="rotate(8 757.3 687.1)" fill="none" stroke="#000" stroke-opacity="0.32" stroke-width="5" filter="url(#blur1)"/></g>
<ellipse cx="877.7" cy="685.9" rx="41" ry="33" transform="rotate(20 877.7 685.9)" fill="none" stroke="#fbfcfe" stroke-width="1.2" stroke-opacity="0.45"/><g clip-path="url(#wc8)"><ellipse cx="877.7" cy="685.9" rx="40.2" ry="32.2" transform="rotate(20 877.7 685.9)" fill="url(#wg8)"/><ellipse cx="873.7" cy="701.9" rx="40.2" ry="32.2" transform="rotate(20 873.7 701.9)" fill="url(#fg8)"/><ellipse cx="873.7" cy="701.9" rx="40.2" ry="32.2" transform="rotate(20 873.7 701.9)" fill="none" stroke="#000" stroke-opacity="0.10" stroke-width="1.5" filter="url(#blur1)"/><ellipse cx="880.2" cy="687.4" rx="40.2" ry="32.2" transform="rotate(20 880.2 687.4)" fill="none" stroke="#000" stroke-opacity="0.37" stroke-width="5" filter="url(#blur1)"/></g>
<ellipse cx="1001" cy="686.3" rx="42.5" ry="32.4" transform="rotate(30 1001 686.3)" fill="none" stroke="#fbfcfe" stroke-width="1.2" stroke-opacity="0.45"/><g clip-path="url(#wc9)"><ellipse cx="1001" cy="686.3" rx="41.7" ry="31.6" transform="rotate(30 1001 686.3)" fill="url(#wg9)"/><ellipse cx="995" cy="700.3" rx="41.7" ry="31.6" transform="rotate(30 995 700.3)" fill="url(#fg9)"/><ellipse cx="995" cy="700.3" rx="41.7" ry="31.6" transform="rotate(30 995 700.3)" fill="none" stroke="#000" stroke-opacity="0.10" stroke-width="1.5" filter="url(#blur1)"/><ellipse cx="1003.5" cy="687.8" rx="41.7" ry="31.6" transform="rotate(30 1003.5 687.8)" fill="none" stroke="#000" stroke-opacity="0.42" stroke-width="5" filter="url(#blur1)"/></g>
<ellipse cx="501.3" cy="789.7" rx="41.8" ry="38.5" transform="rotate(-3 501.3 789.7)" fill="none" stroke="#fbfcfe" stroke-width="1.2" stroke-opacity="0.45"/><g clip-path="url(#wc10)"><ellipse cx="501.3" cy="789.7" rx="41" ry="37.7" transform="rotate(-3 501.3 789.7)" fill="url(#wg10)"/><ellipse cx="503.3" cy="807.7" rx="41" ry="37.7" transform="rotate(-3 503.3 807.7)" fill="url(#fg10)"/><ellipse cx="503.3" cy="807.7" rx="41" ry="37.7" transform="rotate(-3 503.3 807.7)" fill="none" stroke="#000" stroke-opacity="0.10" stroke-width="1.5" filter="url(#blur1)"/><ellipse cx="503.8" cy="791.2" rx="41" ry="37.7" transform="rotate(-3 503.8 791.2)" fill="none" stroke="#000" stroke-opacity="0.22" stroke-width="5" filter="url(#blur1)"/></g>
<ellipse cx="631.5" cy="790.1" rx="41.2" ry="39" transform="rotate(0 631.5 790.1)" fill="none" stroke="#fbfcfe" stroke-width="1.2" stroke-opacity="0.45"/><g clip-path="url(#wc11)"><ellipse cx="631.5" cy="790.1" rx="40.4" ry="38.2" transform="rotate(0 631.5 790.1)" fill="url(#wg11)"/><rect x="651" y="756.06" width="5" height="21" fill="#ffffff" fill-opacity="0.42" filter="url(#blur1)"/><ellipse cx="631.5" cy="808.1" rx="40.4" ry="38.2" transform="rotate(0 631.5 808.1)" fill="url(#fg11)"/><ellipse cx="631.5" cy="808.1" rx="40.4" ry="38.2" transform="rotate(0 631.5 808.1)" fill="none" stroke="#000" stroke-opacity="0.10" stroke-width="1.5" filter="url(#blur1)"/><ellipse cx="634" cy="791.6" rx="40.4" ry="38.2" transform="rotate(0 634 791.6)" fill="none" stroke="#000" stroke-opacity="0.27" stroke-width="5" filter="url(#blur1)"/></g>
<ellipse cx="761.4" cy="790.1" rx="42" ry="38.4" transform="rotate(8 761.4 790.1)" fill="none" stroke="#fbfcfe" stroke-width="1.2" stroke-opacity="0.45"/><g clip-path="url(#wc12)"><ellipse cx="761.4" cy="790.1" rx="41.2" ry="37.6" transform="rotate(8 761.4 790.1)" fill="url(#wg12)"/><rect x="787.9" y="761.39" width="5" height="21.94" fill="#ffffff" fill-opacity="0.42" filter="url(#blur1)"/><ellipse cx="759.4" cy="807.1" rx="41.2" ry="37.6" transform="rotate(8 759.4 807.1)" fill="url(#fg12)"/><ellipse cx="759.4" cy="807.1" rx="41.2" ry="37.6" transform="rotate(8 759.4 807.1)" fill="none" stroke="#000" stroke-opacity="0.10" stroke-width="1.5" filter="url(#blur1)"/><ellipse cx="763.9" cy="791.6" rx="41.2" ry="37.6" transform="rotate(8 763.9 791.6)" fill="none" stroke="#000" stroke-opacity="0.32" stroke-width="5" filter="url(#blur1)"/></g>
<ellipse cx="891.8" cy="790.9" rx="43.6" ry="37.4" transform="rotate(20 891.8 790.9)" fill="none" stroke="#fbfcfe" stroke-width="1.2" stroke-opacity="0.45"/><g clip-path="url(#wc13)"><ellipse cx="891.8" cy="790.9" rx="42.8" ry="36.6" transform="rotate(20 891.8 790.9)" fill="url(#wg13)"/><ellipse cx="887.8" cy="805.9" rx="42.8" ry="36.6" transform="rotate(20 887.8 805.9)" fill="url(#fg13)"/><ellipse cx="887.8" cy="805.9" rx="42.8" ry="36.6" transform="rotate(20 887.8 805.9)" fill="none" stroke="#000" stroke-opacity="0.10" stroke-width="1.5" filter="url(#blur1)"/><ellipse cx="894.3" cy="792.4" rx="42.8" ry="36.6" transform="rotate(20 894.3 792.4)" fill="none" stroke="#000" stroke-opacity="0.37" stroke-width="5" filter="url(#blur1)"/></g>
<ellipse cx="1022" cy="790.9" rx="44.4" ry="36.4" transform="rotate(26 1022 790.9)" fill="none" stroke="#fbfcfe" stroke-width="1.2" stroke-opacity="0.45"/><g clip-path="url(#wc14)"><ellipse cx="1022" cy="790.9" rx="43.6" ry="35.6" transform="rotate(26 1022 790.9)" fill="url(#wg14)"/><ellipse cx="1016" cy="804.9" rx="43.6" ry="35.6" transform="rotate(26 1016 804.9)" fill="url(#fg14)"/><ellipse cx="1016" cy="804.9" rx="43.6" ry="35.6" transform="rotate(26 1016 804.9)" fill="none" stroke="#000" stroke-opacity="0.10" stroke-width="1.5" filter="url(#blur1)"/><ellipse cx="1024.5" cy="792.4" rx="43.6" ry="35.6" transform="rotate(26 1024.5 792.4)" fill="none" stroke="#000" stroke-opacity="0.42" stroke-width="5" filter="url(#blur1)"/></g>
<g><path d="M223.59,566.91 L227.1,562.08" stroke="#3040c0" stroke-width="1.5"/><path d="M227.1,562.08 L230.6,557.25" stroke="#8a8a8a" stroke-width="1.5"/><path d="M272.98,578.85 L272.98,584.82" stroke="#8a8a8a" stroke-width="1.5"/><path d="M272.98,584.82 L272.98,590.79" stroke="#3040c0" stroke-width="1.5"/><path d="M293.66,543.03 L298.83,540.04" stroke="#8a8a8a" stroke-width="1.5"/><path d="M298.83,540.04 L304,537.06" stroke="#8a8a8a" stroke-width="1.5"/><path d="M335.02,554.97 L340.19,557.96" stroke="#8a8a8a" stroke-width="1.5"/><path d="M340.19,557.96 L345.36,560.94" stroke="#8a8a8a" stroke-width="1.5"/><path d="M283.32,608.7 L288.49,611.69" stroke="#8a8a8a" stroke-width="1.5"/><path d="M288.49,611.69 L293.66,614.67" stroke="#3040c0" stroke-width="1.5"/><path d="M241.96,560.94 L241.96,566.91" stroke="#8a8a8a" stroke-width="1.5"/><path d="M241.96,566.91 L241.96,572.88" stroke="#8a8a8a" stroke-width="1.5"/><path d="M262.64,596.76 L267.81,593.78" stroke="#8a8a8a" stroke-width="1.5"/><path d="M267.81,593.78 L272.98,590.79" stroke="#3040c0" stroke-width="1.5"/><path d="M241.96,596.76 L241.96,602.73" stroke="#8a8a8a" stroke-width="1.5"/><path d="M241.96,602.73 L241.96,608.7" stroke="#8a8a8a" stroke-width="1.5"/><path d="M262.64,560.94 L267.81,557.96" stroke="#8a8a8a" stroke-width="1.5"/><path d="M267.81,557.96 L272.98,554.97" stroke="#8a8a8a" stroke-width="1.5"/><path d="M345.36,560.94 L350.53,557.96" stroke="#8a8a8a" stroke-width="1.5"/><path d="M350.53,557.96 L355.7,554.97" stroke="#8a8a8a" stroke-width="1.5"/><path d="M355.7,578.85 L355.7,584.82" stroke="#8a8a8a" stroke-width="1.5"/><path d="M355.7,584.82 L355.7,590.79" stroke="#8a8a8a" stroke-width="1.5"/><path d="M335.02,614.67 L340.19,611.69" stroke="#3040c0" stroke-width="1.5"/><path d="M340.19,611.69 L345.36,608.7" stroke="#8a8a8a" stroke-width="1.5"/><path d="M335.02,590.79 L340.19,593.78" stroke="#8a8a8a" stroke-width="1.5"/><path d="M340.19,593.78 L345.36,596.76" stroke="#8a8a8a" stroke-width="1.5"/><path d="M324.68,596.76 L324.68,602.73" stroke="#8a8a8a" stroke-width="1.5"/><path d="M324.68,602.73 L324.68,608.7" stroke="#8a8a8a" stroke-width="1.5"/><path d="M345.36,596.76 L345.36,602.73" stroke="#8a8a8a" stroke-width="1.5"/><path d="M345.36,602.73 L345.36,608.7" stroke="#8a8a8a" stroke-width="1.5"/><path d="M230.6,593.07 L236.28,594.92" stroke="#8a8a8a" stroke-width="1.5"/><path d="M236.28,594.92 L241.96,596.76" stroke="#8a8a8a" stroke-width="1.5"/><path d="M293.66,590.79 L298.83,593.78" stroke="#8a8a8a" stroke-width="1.5"/><path d="M298.83,593.78 L304,596.76" stroke="#8a8a8a" stroke-width="1.5"/><path d="M324.68,560.94 L324.68,566.91" stroke="#8a8a8a" stroke-width="1.5"/><path d="M324.68,566.91 L324.68,572.88" stroke="#8a8a8a" stroke-width="1.5"/><path d="M230.6,576.57 L236.28,574.72" stroke="#8a8a8a" stroke-width="1.5"/><path d="M236.28,574.72 L241.96,572.88" stroke="#8a8a8a" stroke-width="1.5"/><path d="M345.36,572.88 L350.53,575.87" stroke="#8a8a8a" stroke-width="1.5"/><path d="M350.53,575.87 L355.7,578.85" stroke="#8a8a8a" stroke-width="1.5"/><path d="M262.64,596.76 L262.64,602.73" stroke="#8a8a8a" stroke-width="1.5"/><path d="M262.64,602.73 L262.64,608.7" stroke="#8a8a8a" stroke-width="1.5"/><path d="M272.98,554.97 L278.15,557.96" stroke="#8a8a8a" stroke-width="1.5"/><path d="M278.15,557.96 L283.32,560.94" stroke="#8a8a8a" stroke-width="1.5"/><path d="M223.59,602.73 L227.1,597.9" stroke="#3040c0" stroke-width="1.5"/><path d="M227.1,597.9 L230.6,593.07" stroke="#8a8a8a" stroke-width="1.5"/><path d="M293.66,578.85 L293.66,584.82" stroke="#8a8a8a" stroke-width="1.5"/><path d="M293.66,584.82 L293.66,590.79" stroke="#8a8a8a" stroke-width="1.5"/><path d="M335.02,614.67 L335.02,621.17" stroke="#3040c0" stroke-width="1.5"/><path d="M335.02,621.17 L335.02,627.67" stroke="#c02020" stroke-width="1.5"/><path d="M252.3,578.85 L257.47,575.87" stroke="#8a8a8a" stroke-width="1.5"/><path d="M257.47,575.87 L262.64,572.88" stroke="#8a8a8a" stroke-width="1.5"/><path d="M366.04,560.94 L366.04,566.91" stroke="#8a8a8a" stroke-width="1.5"/><path d="M366.04,566.91 L366.04,572.88" stroke="#8a8a8a" stroke-width="1.5"/><path d="M304,560.94 L304,566.91" stroke="#3040c0" stroke-width="1.5"/><path d="M304,566.91 L304,572.88" stroke="#8a8a8a" stroke-width="1.5"/><path d="M314.34,578.85 L319.51,575.87" stroke="#8a8a8a" stroke-width="1.5"/><path d="M319.51,575.87 L324.68,572.88" stroke="#8a8a8a" stroke-width="1.5"/><path d="M304,608.7 L309.17,611.69" stroke="#8a8a8a" stroke-width="1.5"/><path d="M309.17,611.69 L314.34,614.67" stroke="#8a8a8a" stroke-width="1.5"/><path d="M324.68,560.94 L329.85,557.96" stroke="#8a8a8a" stroke-width="1.5"/><path d="M329.85,557.96 L335.02,554.97" stroke="#8a8a8a" stroke-width="1.5"/><path d="M272.98,614.67 L278.15,611.69" stroke="#8a8a8a" stroke-width="1.5"/><path d="M278.15,611.69 L283.32,608.7" stroke="#8a8a8a" stroke-width="1.5"/><path d="M314.34,543.03 L314.34,549" stroke="#8a8a8a" stroke-width="1.5"/><path d="M314.34,549 L314.34,554.97" stroke="#8a8a8a" stroke-width="1.5"/><path d="M283.32,596.76 L283.32,602.73" stroke="#8a8a8a" stroke-width="1.5"/><path d="M283.32,602.73 L283.32,608.7" stroke="#8a8a8a" stroke-width="1.5"/><path d="M304,560.94 L309.17,557.96" stroke="#3040c0" stroke-width="1.5"/><path d="M309.17,557.96 L314.34,554.97" stroke="#8a8a8a" stroke-width="1.5"/><path d="M304,537.06 L309.17,540.04" stroke="#8a8a8a" stroke-width="1.5"/><path d="M309.17,540.04 L314.34,543.03" stroke="#8a8a8a" stroke-width="1.5"/><path d="M314.34,578.85 L314.34,584.82" stroke="#8a8a8a" stroke-width="1.5"/><path d="M314.34,584.82 L314.34,590.79" stroke="#3040c0" stroke-width="1.5"/><path d="M223.59,602.73 L227.1,607.56" stroke="#3040c0" stroke-width="1.5"/><path d="M227.1,607.56 L230.6,612.39" stroke="#8a8a8a" stroke-width="1.5"/><path d="M335.02,543.03 L340.19,540.04" stroke="#8a8a8a" stroke-width="1.5"/><path d="M340.19,540.04 L345.36,537.06" stroke="#3040c0" stroke-width="1.5"/><path d="M293.66,554.97 L298.83,557.96" stroke="#8a8a8a" stroke-width="1.5"/><path d="M298.83,557.96 L304,560.94" stroke="#3040c0" stroke-width="1.5"/><path d="M335.02,543.03 L335.02,549" stroke="#8a8a8a" stroke-width="1.5"/><path d="M335.02,549 L335.02,554.97" stroke="#8a8a8a" stroke-width="1.5"/><path d="M272.98,543.03 L272.98,549" stroke="#8a8a8a" stroke-width="1.5"/><path d="M272.98,549 L272.98,554.97" stroke="#8a8a8a" stroke-width="1.5"/><path d="M355.7,554.97 L360.87,557.95" stroke="#8a8a8a" stroke-width="1.5"/><path d="M360.87,557.95 L366.04,560.94" stroke="#8a8a8a" stroke-width="1.5"/><path d="M241.96,572.88 L247.13,575.87" stroke="#8a8a8a" stroke-width="1.5"/><path d="M247.13,575.87 L252.3,578.85" stroke="#8a8a8a" stroke-width="1.5"/><path d="M241.96,608.7 L247.13,611.69" stroke="#8a8a8a" stroke-width="1.5"/><path d="M247.13,611.69 L252.3,614.67" stroke="#8a8a8a" stroke-width="1.5"/><path d="M241.96,560.94 L247.13,557.95" stroke="#8a8a8a" stroke-width="1.5"/><path d="M247.13,557.95 L252.3,554.97" stroke="#8a8a8a" stroke-width="1.5"/><path d="M345.36,537.06 L350.53,540.04" stroke="#3040c0" stroke-width="1.5"/><path d="M350.53,540.04 L355.7,543.03" stroke="#8a8a8a" stroke-width="1.5"/><path d="M241.96,596.76 L247.13,593.78" stroke="#8a8a8a" stroke-width="1.5"/><path d="M247.13,593.78 L252.3,590.79" stroke="#8a8a8a" stroke-width="1.5"/><path d="M252.3,590.79 L257.47,593.78" stroke="#8a8a8a" stroke-width="1.5"/><path d="M257.47,593.78 L262.64,596.76" stroke="#8a8a8a" stroke-width="1.5"/><path d="M272.98,578.85 L278.15,575.87" stroke="#8a8a8a" stroke-width="1.5"/><path d="M278.15,575.87 L283.32,572.88" stroke="#8a8a8a" stroke-width="1.5"/><path d="M314.34,590.79 L319.51,593.78" stroke="#3040c0" stroke-width="1.5"/><path d="M319.51,593.78 L324.68,596.76" stroke="#8a8a8a" stroke-width="1.5"/><path d="M262.64,560.94 L262.64,566.91" stroke="#8a8a8a" stroke-width="1.5"/><path d="M262.64,566.91 L262.64,572.88" stroke="#8a8a8a" stroke-width="1.5"/><path d="M304,572.88 L309.17,575.87" stroke="#8a8a8a" stroke-width="1.5"/><path d="M309.17,575.87 L314.34,578.85" stroke="#8a8a8a" stroke-width="1.5"/><path d="M252.3,554.97 L257.47,557.96" stroke="#8a8a8a" stroke-width="1.5"/><path d="M257.47,557.96 L262.64,560.94" stroke="#8a8a8a" stroke-width="1.5"/><path d="M345.36,596.76 L350.53,593.78" stroke="#8a8a8a" stroke-width="1.5"/><path d="M350.53,593.78 L355.7,590.79" stroke="#8a8a8a" stroke-width="1.5"/><path d="M335.02,578.85 L335.02,584.82" stroke="#8a8a8a" stroke-width="1.5"/><path d="M335.02,584.82 L335.02,590.79" stroke="#8a8a8a" stroke-width="1.5"/><path d="M283.32,572.88 L288.49,575.87" stroke="#8a8a8a" stroke-width="1.5"/><path d="M288.49,575.87 L293.66,578.85" stroke="#8a8a8a" stroke-width="1.5"/><path d="M262.64,537.06 L267.81,540.04" stroke="#8a8a8a" stroke-width="1.5"/><path d="M267.81,540.04 L272.98,543.03" stroke="#8a8a8a" stroke-width="1.5"/><path d="M355.7,614.67 L360.87,611.69" stroke="#8a8a8a" stroke-width="1.5"/><path d="M360.87,611.69 L366.04,608.7" stroke="#8a8a8a" stroke-width="1.5"/><path d="M283.32,560.94 L288.49,557.96" stroke="#8a8a8a" stroke-width="1.5"/><path d="M288.49,557.96 L293.66,554.97" stroke="#8a8a8a" stroke-width="1.5"/><path d="M283.32,596.76 L288.49,593.78" stroke="#8a8a8a" stroke-width="1.5"/><path d="M288.49,593.78 L293.66,590.79" stroke="#8a8a8a" stroke-width="1.5"/><path d="M324.68,596.76 L329.85,593.78" stroke="#8a8a8a" stroke-width="1.5"/><path d="M329.85,593.78 L335.02,590.79" stroke="#8a8a8a" stroke-width="1.5"/><path d="M252.3,614.67 L257.47,611.69" stroke="#8a8a8a" stroke-width="1.5"/><path d="M257.47,611.69 L262.64,608.7" stroke="#8a8a8a" stroke-width="1.5"/><path d="M314.34,543.03 L319.51,540.04" stroke="#8a8a8a" stroke-width="1.5"/><path d="M319.51,540.04 L324.68,537.06" stroke="#8a8a8a" stroke-width="1.5"/><path d="M345.36,608.7 L350.53,611.69" stroke="#8a8a8a" stroke-width="1.5"/><path d="M350.53,611.69 L355.7,614.67" stroke="#8a8a8a" stroke-width="1.5"/><path d="M252.3,578.85 L252.3,584.82" stroke="#8a8a8a" stroke-width="1.5"/><path d="M252.3,584.82 L252.3,590.79" stroke="#8a8a8a" stroke-width="1.5"/><path d="M283.32,537.06 L288.49,540.04" stroke="#3040c0" stroke-width="1.5"/><path d="M288.49,540.04 L293.66,543.03" stroke="#8a8a8a" stroke-width="1.5"/><path d="M324.68,608.7 L329.85,611.69" stroke="#8a8a8a" stroke-width="1.5"/><path d="M329.85,611.69 L335.02,614.67" stroke="#3040c0" stroke-width="1.5"/><path d="M293.66,543.03 L293.66,549" stroke="#8a8a8a" stroke-width="1.5"/><path d="M293.66,549 L293.66,554.97" stroke="#8a8a8a" stroke-width="1.5"/><path d="M262.64,608.7 L267.81,611.69" stroke="#8a8a8a" stroke-width="1.5"/><path d="M267.81,611.69 L272.98,614.67" stroke="#8a8a8a" stroke-width="1.5"/><path d="M230.6,557.25 L236.28,559.1" stroke="#8a8a8a" stroke-width="1.5"/><path d="M236.28,559.1 L241.96,560.94" stroke="#8a8a8a" stroke-width="1.5"/><path d="M335.02,578.85 L340.19,575.87" stroke="#8a8a8a" stroke-width="1.5"/><path d="M340.19,575.87 L345.36,572.88" stroke="#8a8a8a" stroke-width="1.5"/><path d="M293.66,614.67 L298.83,611.69" stroke="#3040c0" stroke-width="1.5"/><path d="M298.83,611.69 L304,608.7" stroke="#8a8a8a" stroke-width="1.5"/><path d="M314.34,614.67 L319.51,611.69" stroke="#8a8a8a" stroke-width="1.5"/><path d="M319.51,611.69 L324.68,608.7" stroke="#8a8a8a" stroke-width="1.5"/><path d="M230.6,612.39 L236.28,610.54" stroke="#8a8a8a" stroke-width="1.5"/><path d="M236.28,610.54 L241.96,608.7" stroke="#8a8a8a" stroke-width="1.5"/><path d="M252.3,543.03 L257.47,540.04" stroke="#8a8a8a" stroke-width="1.5"/><path d="M257.47,540.04 L262.64,537.06" stroke="#8a8a8a" stroke-width="1.5"/><path d="M272.98,590.79 L278.15,593.78" stroke="#3040c0" stroke-width="1.5"/><path d="M278.15,593.78 L283.32,596.76" stroke="#8a8a8a" stroke-width="1.5"/><path d="M304,596.76 L309.17,593.78" stroke="#8a8a8a" stroke-width="1.5"/><path d="M309.17,593.78 L314.34,590.79" stroke="#3040c0" stroke-width="1.5"/><path d="M223.59,566.91 L227.1,571.74" stroke="#3040c0" stroke-width="1.5"/><path d="M227.1,571.74 L230.6,576.57" stroke="#8a8a8a" stroke-width="1.5"/><path d="M355.7,590.79 L360.87,593.78" stroke="#8a8a8a" stroke-width="1.5"/><path d="M360.87,593.78 L366.04,596.76" stroke="#8a8a8a" stroke-width="1.5"/><path d="M345.36,525.76 L345.36,531.41" stroke="#c02020" stroke-width="1.5"/><path d="M345.36,531.41 L345.36,537.06" stroke="#3040c0" stroke-width="1.5"/><path d="M366.04,596.76 L366.04,602.73" stroke="#8a8a8a" stroke-width="1.5"/><path d="M366.04,602.73 L366.04,608.7" stroke="#8a8a8a" stroke-width="1.5"/><path d="M272.98,543.03 L278.15,540.04" stroke="#8a8a8a" stroke-width="1.5"/><path d="M278.15,540.04 L283.32,537.06" stroke="#3040c0" stroke-width="1.5"/><path d="M283.32,560.94 L283.32,566.91" stroke="#8a8a8a" stroke-width="1.5"/><path d="M283.32,566.91 L283.32,572.88" stroke="#8a8a8a" stroke-width="1.5"/><path d="M355.7,578.85 L360.87,575.87" stroke="#8a8a8a" stroke-width="1.5"/><path d="M360.87,575.87 L366.04,572.88" stroke="#8a8a8a" stroke-width="1.5"/><path d="M324.68,537.06 L329.85,540.04" stroke="#8a8a8a" stroke-width="1.5"/><path d="M329.85,540.04 L335.02,543.03" stroke="#8a8a8a" stroke-width="1.5"/><path d="M262.64,572.88 L267.81,575.87" stroke="#8a8a8a" stroke-width="1.5"/><path d="M267.81,575.87 L272.98,578.85" stroke="#8a8a8a" stroke-width="1.5"/><path d="M345.36,560.94 L345.36,566.91" stroke="#8a8a8a" stroke-width="1.5"/><path d="M345.36,566.91 L345.36,572.88" stroke="#8a8a8a" stroke-width="1.5"/><path d="M355.7,543.03 L355.7,549" stroke="#8a8a8a" stroke-width="1.5"/><path d="M355.7,549 L355.7,554.97" stroke="#8a8a8a" stroke-width="1.5"/><path d="M304,596.76 L304,602.73" stroke="#8a8a8a" stroke-width="1.5"/><path d="M304,602.73 L304,608.7" stroke="#8a8a8a" stroke-width="1.5"/><path d="M252.3,543.03 L252.3,549" stroke="#8a8a8a" stroke-width="1.5"/><path d="M252.3,549 L252.3,554.97" stroke="#8a8a8a" stroke-width="1.5"/><path d="M314.34,554.97 L319.51,557.96" stroke="#8a8a8a" stroke-width="1.5"/><path d="M319.51,557.96 L324.68,560.94" stroke="#8a8a8a" stroke-width="1.5"/><path d="M293.66,578.85 L298.83,575.87" stroke="#8a8a8a" stroke-width="1.5"/><path d="M298.83,575.87 L304,572.88" stroke="#8a8a8a" stroke-width="1.5"/><path d="M324.68,572.88 L329.85,575.87" stroke="#8a8a8a" stroke-width="1.5"/><path d="M329.85,575.87 L335.02,578.85" stroke="#8a8a8a" stroke-width="1.5"/><g stroke="#ffffff" stroke-opacity="0.45" stroke-width="0.5"><path d="M223.59,566.91 L230.6,557.25"/><path d="M272.98,578.85 L272.98,590.79"/><path d="M293.66,543.03 L304,537.06"/><path d="M335.02,554.97 L345.36,560.94"/><path d="M283.32,608.7 L293.66,614.67"/><path d="M241.96,560.94 L241.96,572.88"/><path d="M262.64,596.76 L272.98,590.79"/><path d="M241.96,596.76 L241.96,608.7"/><path d="M262.64,560.94 L272.98,554.97"/><path d="M345.36,560.94 L355.7,554.97"/><path d="M355.7,578.85 L355.7,590.79"/><path d="M335.02,614.67 L345.36,608.7"/><path d="M335.02,590.79 L345.36,596.76"/><path d="M324.68,596.76 L324.68,608.7"/><path d="M345.36,596.76 L345.36,608.7"/><path d="M230.6,593.07 L241.96,596.76"/><path d="M293.66,590.79 L304,596.76"/><path d="M324.68,560.94 L324.68,572.88"/><path d="M230.6,576.57 L241.96,572.88"/><path d="M345.36,572.88 L355.7,578.85"/><path d="M262.64,596.76 L262.64,608.7"/><path d="M272.98,554.97 L283.32,560.94"/><path d="M223.59,602.73 L230.6,593.07"/><path d="M293.66,578.85 L293.66,590.79"/><path d="M335.02,614.67 L335.02,627.67"/><path d="M252.3,578.85 L262.64,572.88"/><path d="M366.04,560.94 L366.04,572.88"/><path d="M304,560.94 L304,572.88"/><path d="M314.34,578.85 L324.68,572.88"/><path d="M304,608.7 L314.34,614.67"/><path d="M324.68,560.94 L335.02,554.97"/><path d="M272.98,614.67 L283.32,608.7"/><path d="M314.34,543.03 L314.34,554.97"/><path d="M283.32,596.76 L283.32,608.7"/><path d="M304,560.94 L314.34,554.97"/><path d="M304,537.06 L314.34,543.03"/><path d="M314.34,578.85 L314.34,590.79"/><path d="M223.59,602.73 L230.6,612.39"/><path d="M335.02,543.03 L345.36,537.06"/><path d="M293.66,554.97 L304,560.94"/><path d="M335.02,543.03 L335.02,554.97"/><path d="M272.98,543.03 L272.98,554.97"/><path d="M355.7,554.97 L366.04,560.94"/><path d="M241.96,572.88 L252.3,578.85"/><path d="M241.96,608.7 L252.3,614.67"/><path d="M241.96,560.94 L252.3,554.97"/><path d="M345.36,537.06 L355.7,543.03"/><path d="M241.96,596.76 L252.3,590.79"/><path d="M252.3,590.79 L262.64,596.76"/><path d="M272.98,578.85 L283.32,572.88"/><path d="M314.34,590.79 L324.68,596.76"/><path d="M262.64,560.94 L262.64,572.88"/><path d="M304,572.88 L314.34,578.85"/><path d="M252.3,554.97 L262.64,560.94"/><path d="M345.36,596.76 L355.7,590.79"/><path d="M335.02,578.85 L335.02,590.79"/><path d="M283.32,572.88 L293.66,578.85"/><path d="M262.64,537.06 L272.98,543.03"/><path d="M355.7,614.67 L366.04,608.7"/><path d="M283.32,560.94 L293.66,554.97"/><path d="M283.32,596.76 L293.66,590.79"/><path d="M324.68,596.76 L335.02,590.79"/><path d="M252.3,614.67 L262.64,608.7"/><path d="M314.34,543.03 L324.68,537.06"/><path d="M345.36,608.7 L355.7,614.67"/><path d="M252.3,578.85 L252.3,590.79"/><path d="M283.32,537.06 L293.66,543.03"/><path d="M324.68,608.7 L335.02,614.67"/><path d="M293.66,543.03 L293.66,554.97"/><path d="M262.64,608.7 L272.98,614.67"/><path d="M230.6,557.25 L241.96,560.94"/><path d="M335.02,578.85 L345.36,572.88"/><path d="M293.66,614.67 L304,608.7"/><path d="M314.34,614.67 L324.68,608.7"/><path d="M230.6,612.39 L241.96,608.7"/><path d="M252.3,543.03 L262.64,537.06"/><path d="M272.98,590.79 L283.32,596.76"/><path d="M304,596.76 L314.34,590.79"/><path d="M223.59,566.91 L230.6,576.57"/><path d="M355.7,590.79 L366.04,596.76"/><path d="M345.36,525.76 L345.36,537.06"/><path d="M366.04,596.76 L366.04,608.7"/><path d="M272.98,543.03 L283.32,537.06"/><path d="M283.32,560.94 L283.32,572.88"/><path d="M355.7,578.85 L366.04,572.88"/><path d="M324.68,537.06 L335.02,543.03"/><path d="M262.64,572.88 L272.98,578.85"/><path d="M345.36,560.94 L345.36,572.88"/><path d="M355.7,543.03 L355.7,554.97"/><path d="M304,596.76 L304,608.7"/><path d="M252.3,543.03 L252.3,554.97"/><path d="M314.34,554.97 L324.68,560.94"/><path d="M293.66,578.85 L304,572.88"/><path d="M324.68,572.88 L335.02,578.85"/></g><circle cx="262.64" cy="537.06" r="2.85" fill="url(#aC)"/><circle cx="272.98" cy="543.03" r="2.85" fill="url(#aC)"/><circle cx="272.98" cy="554.97" r="2.85" fill="url(#aC)"/><circle cx="262.64" cy="560.94" r="2.85" fill="url(#aC)"/><circle cx="252.3" cy="554.97" r="2.85" fill="url(#aC)"/><circle cx="252.3" cy="543.03" r="2.85" fill="url(#aC)"/><circle cx="283.32" cy="537.06" r="2.85" fill="url(#aN)"/><circle cx="293.66" cy="543.03" r="2.85" fill="url(#aC)"/><circle cx="293.66" cy="554.97" r="2.85" fill="url(#aC)"/><circle cx="283.32" cy="560.94" r="2.85" fill="url(#aC)"/><circle cx="304" cy="537.06" r="2.85" fill="url(#aC)"/><circle cx="314.34" cy="543.03" r="2.85" fill="url(#aC)"/><circle cx="314.34" cy="554.97" r="2.85" fill="url(#aC)"/><circle cx="304" cy="560.94" r="2.85" fill="url(#aN)"/><circle cx="324.68" cy="537.06" r="2.85" fill="url(#aC)"/><circle cx="335.02" cy="543.03" r="2.85" fill="url(#aC)"/><circle cx="335.02" cy="554.97" r="2.85" fill="url(#aC)"/><circle cx="324.68" cy="560.94" r="2.85" fill="url(#aC)"/><circle cx="345.36" cy="537.06" r="2.85" fill="url(#aN)"/><circle cx="355.7" cy="543.03" r="2.85" fill="url(#aC)"/><circle cx="355.7" cy="554.97" r="2.85" fill="url(#aC)"/><circle cx="345.36" cy="560.94" r="2.85" fill="url(#aC)"/><circle cx="262.64" cy="572.88" r="2.85" fill="url(#aC)"/><circle cx="252.3" cy="578.85" r="2.85" fill="url(#aC)"/><circle cx="241.96" cy="572.88" r="2.85" fill="url(#aC)"/><circle cx="241.96" cy="560.94" r="2.85" fill="url(#aC)"/><circle cx="283.32" cy="572.88" r="2.85" fill="url(#aC)"/><circle cx="272.98" cy="578.85" r="2.85" fill="url(#aC)"/><circle cx="304" cy="572.88" r="2.85" fill="url(#aC)"/><circle cx="293.66" cy="578.85" r="2.85" fill="url(#aC)"/><circle cx="324.68" cy="572.88" r="2.85" fill="url(#aC)"/><circle cx="314.34" cy="578.85" r="2.85" fill="url(#aC)"/><circle cx="345.36" cy="572.88" r="2.85" fill="url(#aC)"/><circle cx="335.02" cy="578.85" r="2.85" fill="url(#aC)"/><circle cx="366.04" cy="560.94" r="2.85" fill="url(#aC)"/><circle cx="366.04" cy="572.88" r="2.85" fill="url(#aC)"/><circle cx="355.7" cy="578.85" r="2.85" fill="url(#aC)"/><circle cx="272.98" cy="590.79" r="2.85" fill="url(#aN)"/><circle cx="262.64" cy="596.76" r="2.85" fill="url(#aC)"/><circle cx="252.3" cy="590.79" r="2.85" fill="url(#aC)"/><circle cx="293.66" cy="590.79" r="2.85" fill="url(#aC)"/><circle cx="283.32" cy="596.76" r="2.85" fill="url(#aC)"/><circle cx="314.34" cy="590.79" r="2.85" fill="url(#aN)"/><circle cx="304" cy="596.76" r="2.85" fill="url(#aC)"/><circle cx="335.02" cy="590.79" r="2.85" fill="url(#aC)"/><circle cx="324.68" cy="596.76" r="2.85" fill="url(#aC)"/><circle cx="355.7" cy="590.79" r="2.85" fill="url(#aC)"/><circle cx="345.36" cy="596.76" r="2.85" fill="url(#aC)"/><circle cx="262.64" cy="608.7" r="2.85" fill="url(#aC)"/><circle cx="252.3" cy="614.67" r="2.85" fill="url(#aC)"/><circle cx="241.96" cy="608.7" r="2.85" fill="url(#aC)"/><circle cx="241.96" cy="596.76" r="2.85" fill="url(#aC)"/><circle cx="283.32" cy="608.7" r="2.85" fill="url(#aC)"/><circle cx="272.98" cy="614.67" r="2.85" fill="url(#aC)"/><circle cx="304" cy="608.7" r="2.85" fill="url(#aC)"/><circle cx="293.66" cy="614.67" r="2.85" fill="url(#aN)"/><circle cx="324.68" cy="608.7" r="2.85" fill="url(#aC)"/><circle cx="314.34" cy="614.67" r="2.85" fill="url(#aC)"/><circle cx="345.36" cy="608.7" r="2.85" fill="url(#aC)"/><circle cx="335.02" cy="614.67" r="2.85" fill="url(#aN)"/><circle cx="366.04" cy="596.76" r="2.85" fill="url(#aC)"/><circle cx="366.04" cy="608.7" r="2.85" fill="url(#aC)"/><circle cx="355.7" cy="614.67" r="2.85" fill="url(#aC)"/><circle cx="345.36" cy="525.76" r="2.85" fill="url(#aO)"/><circle cx="335.02" cy="627.67" r="2.85" fill="url(#aO)"/><circle cx="230.6" cy="576.57" r="2.85" fill="url(#aC)"/><circle cx="223.59" cy="566.91" r="2.85" fill="url(#aN)"/><circle cx="230.6" cy="557.25" r="2.85" fill="url(#aC)"/><circle cx="230.6" cy="612.39" r="2.85" fill="url(#aC)"/><circle cx="223.59" cy="602.73" r="2.85" fill="url(#aN)"/><circle cx="230.6" cy="593.07" r="2.85" fill="url(#aC)"/></g>
<g><path d="M293.45,794.54 L297.99,797.16" stroke="#8a8a8a" stroke-width="1.5"/><path d="M297.99,797.16 L302.52,799.78" stroke="#8a8a8a" stroke-width="1.5"/><path d="M275.31,815.48 L279.85,812.86" stroke="#8a8a8a" stroke-width="1.5"/><path d="M279.85,812.86 L284.38,810.25" stroke="#8a8a8a" stroke-width="1.5"/><path d="M222.92,820.72 L226,816.48" stroke="#3040c0" stroke-width="1.5"/><path d="M226,816.48 L229.07,812.24" stroke="#8a8a8a" stroke-width="1.5"/><path d="M293.45,815.48 L293.45,820.72" stroke="#8a8a8a" stroke-width="1.5"/><path d="M293.45,820.72 L293.45,825.95" stroke="#8a8a8a" stroke-width="1.5"/><path d="M266.24,799.78 L266.24,805.01" stroke="#8a8a8a" stroke-width="1.5"/><path d="M266.24,805.01 L266.24,810.25" stroke="#3040c0" stroke-width="1.5"/><path d="M222.92,789.31 L226,793.54" stroke="#b09020" stroke-width="1.5"/><path d="M226,793.54 L229.07,797.78" stroke="#8a8a8a" stroke-width="1.5"/><path d="M266.24,831.19 L270.77,828.57" stroke="#8a8a8a" stroke-width="1.5"/><path d="M270.77,828.57 L275.31,825.95" stroke="#8a8a8a" stroke-width="1.5"/><path d="M311.59,794.54 L316.12,797.16" stroke="#8a8a8a" stroke-width="1.5"/><path d="M316.12,797.16 L320.66,799.78" stroke="#8a8a8a" stroke-width="1.5"/><path d="M311.59,784.07 L316.12,781.45" stroke="#8a8a8a" stroke-width="1.5"/><path d="M316.12,781.45 L320.66,778.84" stroke="#8a8a8a" stroke-width="1.5"/><path d="M284.38,768.37 L288.91,765.75" stroke="#8a8a8a" stroke-width="1.5"/><path d="M288.91,765.75 L293.45,763.13" stroke="#8a8a8a" stroke-width="1.5"/><path d="M329.73,815.48 L329.73,820.72" stroke="#8a8a8a" stroke-width="1.5"/><path d="M329.73,820.72 L329.73,825.95" stroke="#8a8a8a" stroke-width="1.5"/><path d="M293.45,763.13 L297.99,765.75" stroke="#8a8a8a" stroke-width="1.5"/><path d="M297.99,765.75 L302.52,768.37" stroke="#8a8a8a" stroke-width="1.5"/><path d="M347.87,784.07 L351.95,780.93" stroke="#8a8a8a" stroke-width="1.5"/><path d="M351.95,780.93 L356.04,777.79" stroke="#b09020" stroke-width="1.5"/><path d="M302.52,799.78 L302.52,805.01" stroke="#8a8a8a" stroke-width="1.5"/><path d="M302.52,805.01 L302.52,810.25" stroke="#3040c0" stroke-width="1.5"/><path d="M266.24,768.37 L270.77,765.75" stroke="#8a8a8a" stroke-width="1.5"/><path d="M270.77,765.75 L275.31,763.13" stroke="#3040c0" stroke-width="1.5"/><path d="M302.52,778.84 L307.05,781.45" stroke="#8a8a8a" stroke-width="1.5"/><path d="M307.05,781.45 L311.59,784.07" stroke="#8a8a8a" stroke-width="1.5"/><path d="M311.59,784.07 L311.59,789.31" stroke="#8a8a8a" stroke-width="1.5"/><path d="M311.59,789.31 L311.59,794.54" stroke="#8a8a8a" stroke-width="1.5"/><path d="M320.66,831.19 L325.19,828.57" stroke="#3040c0" stroke-width="1.5"/><path d="M325.19,828.57 L329.73,825.95" stroke="#8a8a8a" stroke-width="1.5"/><path d="M229.07,780.83 L234.05,782.45" stroke="#8a8a8a" stroke-width="1.5"/><path d="M234.05,782.45 L239.03,784.07" stroke="#8a8a8a" stroke-width="1.5"/><path d="M329.73,784.07 L334.26,781.45" stroke="#8a8a8a" stroke-width="1.5"/><path d="M334.26,781.45 L338.8,778.84" stroke="#8a8a8a" stroke-width="1.5"/><path d="M329.73,752.63 L329.73,757.88" stroke="#c02020" stroke-width="1.5"/><path d="M329.73,757.88 L329.73,763.13" stroke="#3040c0" stroke-width="1.5"/><path d="M311.59,825.95 L316.12,828.57" stroke="#8a8a8a" stroke-width="1.5"/><path d="M316.12,828.57 L320.66,831.19" stroke="#3040c0" stroke-width="1.5"/><path d="M284.38,778.84 L288.91,781.45" stroke="#8a8a8a" stroke-width="1.5"/><path d="M288.91,781.45 L293.45,784.07" stroke="#3040c0" stroke-width="1.5"/><path d="M229.07,829.19 L234.05,827.57" stroke="#8a8a8a" stroke-width="1.5"/><path d="M234.05,827.57 L239.03,825.95" stroke="#8a8a8a" stroke-width="1.5"/><path d="M248.1,768.37 L252.64,765.75" stroke="#8a8a8a" stroke-width="1.5"/><path d="M252.64,765.75 L257.17,763.13" stroke="#8a8a8a" stroke-width="1.5"/><path d="M248.1,831.19 L252.63,828.57" stroke="#8a8a8a" stroke-width="1.5"/><path d="M252.63,828.57 L257.17,825.95" stroke="#8a8a8a" stroke-width="1.5"/><path d="M284.38,768.37 L284.38,773.6" stroke="#8a8a8a" stroke-width="1.5"/><path d="M284.38,773.6 L284.38,778.84" stroke="#8a8a8a" stroke-width="1.5"/><path d="M320.66,831.19 L320.66,837.22" stroke="#3040c0" stroke-width="1.5"/><path d="M320.66,837.22 L320.66,843.26" stroke="#c02020" stroke-width="1.5"/><path d="M275.31,815.48 L275.31,820.72" stroke="#8a8a8a" stroke-width="1.5"/><path d="M275.31,820.72 L275.31,825.95" stroke="#8a8a8a" stroke-width="1.5"/><path d="M284.38,799.78 L288.91,797.16" stroke="#8a8a8a" stroke-width="1.5"/><path d="M288.91,797.16 L293.45,794.54" stroke="#8a8a8a" stroke-width="1.5"/><path d="M320.66,778.84 L325.19,781.45" stroke="#8a8a8a" stroke-width="1.5"/><path d="M325.19,781.45 L329.73,784.07" stroke="#8a8a8a" stroke-width="1.5"/><path d="M347.87,815.48 L351.95,812.34" stroke="#8a8a8a" stroke-width="1.5"/><path d="M351.95,812.34 L356.04,809.2" stroke="#b09020" stroke-width="1.5"/><path d="M222.92,820.72 L226,824.95" stroke="#3040c0" stroke-width="1.5"/><path d="M226,824.95 L229.07,829.19" stroke="#8a8a8a" stroke-width="1.5"/><path d="M284.38,810.25 L288.91,812.86" stroke="#8a8a8a" stroke-width="1.5"/><path d="M288.91,812.86 L293.45,815.48" stroke="#8a8a8a" stroke-width="1.5"/><path d="M257.17,794.54 L261.71,797.16" stroke="#8a8a8a" stroke-width="1.5"/><path d="M261.71,797.16 L266.24,799.78" stroke="#8a8a8a" stroke-width="1.5"/><path d="M239.03,815.48 L239.03,820.72" stroke="#8a8a8a" stroke-width="1.5"/><path d="M239.03,820.72 L239.03,825.95" stroke="#8a8a8a" stroke-width="1.5"/><path d="M266.24,768.37 L266.24,773.6" stroke="#8a8a8a" stroke-width="1.5"/><path d="M266.24,773.6 L266.24,778.84" stroke="#8a8a8a" stroke-width="1.5"/><path d="M302.52,799.78 L307.05,797.16" stroke="#8a8a8a" stroke-width="1.5"/><path d="M307.05,797.16 L311.59,794.54" stroke="#8a8a8a" stroke-width="1.5"/><path d="M320.66,768.37 L320.66,773.6" stroke="#8a8a8a" stroke-width="1.5"/><path d="M320.66,773.6 L320.66,778.84" stroke="#8a8a8a" stroke-width="1.5"/><path d="M293.45,784.07 L297.99,781.45" stroke="#3040c0" stroke-width="1.5"/><path d="M297.99,781.45 L302.52,778.84" stroke="#8a8a8a" stroke-width="1.5"/><path d="M347.87,784.07 L347.87,789.31" stroke="#8a8a8a" stroke-width="1.5"/><path d="M347.87,789.31 L347.87,794.54" stroke="#8a8a8a" stroke-width="1.5"/><path d="M356.04,777.79 L358.92,773.86" stroke="#b09020" stroke-width="1.5"/><path d="M358.92,773.86 L361.8,769.94" stroke="#c02020" stroke-width="1.5"/><path d="M338.8,810.25 L343.34,812.86" stroke="#8a8a8a" stroke-width="1.5"/><path d="M343.34,812.86 L347.87,815.48" stroke="#8a8a8a" stroke-width="1.5"/><path d="M293.45,784.07 L293.45,789.31" stroke="#3040c0" stroke-width="1.5"/><path d="M293.45,789.31 L293.45,794.54" stroke="#8a8a8a" stroke-width="1.5"/><path d="M257.17,784.07 L257.17,789.31" stroke="#8a8a8a" stroke-width="1.5"/><path d="M257.17,789.31 L257.17,794.54" stroke="#8a8a8a" stroke-width="1.5"/><path d="M338.8,799.78 L343.34,797.16" stroke="#8a8a8a" stroke-width="1.5"/><path d="M343.34,797.16 L347.87,794.54" stroke="#8a8a8a" stroke-width="1.5"/><path d="M338.8,799.78 L338.8,805.01" stroke="#8a8a8a" stroke-width="1.5"/><path d="M338.8,805.01 L338.8,810.25" stroke="#8a8a8a" stroke-width="1.5"/><path d="M302.52,768.37 L302.52,773.6" stroke="#8a8a8a" stroke-width="1.5"/><path d="M302.52,773.6 L302.52,778.84" stroke="#8a8a8a" stroke-width="1.5"/><path d="M275.31,784.07 L279.85,781.45" stroke="#8a8a8a" stroke-width="1.5"/><path d="M279.85,781.45 L284.38,778.84" stroke="#8a8a8a" stroke-width="1.5"/><path d="M239.03,784.07 L239.03,789.31" stroke="#8a8a8a" stroke-width="1.5"/><path d="M239.03,789.31 L239.03,794.54" stroke="#8a8a8a" stroke-width="1.5"/><path d="M266.24,810.25 L270.77,812.86" stroke="#3040c0" stroke-width="1.5"/><path d="M270.77,812.86 L275.31,815.48" stroke="#8a8a8a" stroke-width="1.5"/><path d="M320.66,810.25 L325.19,812.86" stroke="#8a8a8a" stroke-width="1.5"/><path d="M325.19,812.86 L329.73,815.48" stroke="#8a8a8a" stroke-width="1.5"/><path d="M266.24,799.78 L270.77,797.16" stroke="#8a8a8a" stroke-width="1.5"/><path d="M270.77,797.16 L275.31,794.54" stroke="#8a8a8a" stroke-width="1.5"/><path d="M338.8,778.84 L343.34,781.45" stroke="#8a8a8a" stroke-width="1.5"/><path d="M343.34,781.45 L347.87,784.07" stroke="#8a8a8a" stroke-width="1.5"/><path d="M302.52,768.37 L307.05,765.75" stroke="#8a8a8a" stroke-width="1.5"/><path d="M307.05,765.75 L311.59,763.13" stroke="#8a8a8a" stroke-width="1.5"/><path d="M320.66,799.78 L320.66,805.01" stroke="#8a8a8a" stroke-width="1.5"/><path d="M320.66,805.01 L320.66,810.25" stroke="#8a8a8a" stroke-width="1.5"/><path d="M284.38,831.19 L288.91,828.57" stroke="#3040c0" stroke-width="1.5"/><path d="M288.91,828.57 L293.45,825.95" stroke="#8a8a8a" stroke-width="1.5"/><path d="M302.52,810.25 L307.05,812.86" stroke="#3040c0" stroke-width="1.5"/><path d="M307.05,812.86 L311.59,815.48" stroke="#8a8a8a" stroke-width="1.5"/><path d="M311.59,815.48 L316.12,812.86" stroke="#8a8a8a" stroke-width="1.5"/><path d="M316.12,812.86 L320.66,810.25" stroke="#8a8a8a" stroke-width="1.5"/><path d="M266.24,778.84 L270.77,781.45" stroke="#8a8a8a" stroke-width="1.5"/><path d="M270.77,781.45 L275.31,784.07" stroke="#8a8a8a" stroke-width="1.5"/><path d="M302.52,831.19 L307.05,828.57" stroke="#8a8a8a" stroke-width="1.5"/><path d="M307.05,828.57 L311.59,825.95" stroke="#8a8a8a" stroke-width="1.5"/><path d="M320.66,768.37 L325.19,765.75" stroke="#8a8a8a" stroke-width="1.5"/><path d="M325.19,765.75 L329.73,763.13" stroke="#3040c0" stroke-width="1.5"/><path d="M275.31,784.07 L275.31,789.31" stroke="#8a8a8a" stroke-width="1.5"/><path d="M275.31,789.31 L275.31,794.54" stroke="#8a8a8a" stroke-width="1.5"/><path d="M222.92,789.31 L226,785.07" stroke="#b09020" stroke-width="1.5"/><path d="M226,785.07 L229.07,780.83" stroke="#8a8a8a" stroke-width="1.5"/><path d="M275.31,794.54 L279.85,797.16" stroke="#8a8a8a" stroke-width="1.5"/><path d="M279.85,797.16 L284.38,799.78" stroke="#8a8a8a" stroke-width="1.5"/><path d="M239.03,815.48 L243.56,812.86" stroke="#8a8a8a" stroke-width="1.5"/><path d="M243.56,812.86 L248.1,810.25" stroke="#8a8a8a" stroke-width="1.5"/><path d="M293.45,825.95 L297.99,828.57" stroke="#8a8a8a" stroke-width="1.5"/><path d="M297.99,828.57 L302.52,831.19" stroke="#8a8a8a" stroke-width="1.5"/><path d="M356.04,777.79 L361.27,779.62" stroke="#b09020" stroke-width="1.5"/><path d="M361.27,779.62 L366.51,781.45" stroke="#c02020" stroke-width="1.5"/><path d="M311.59,815.48 L311.59,820.72" stroke="#8a8a8a" stroke-width="1.5"/><path d="M311.59,820.72 L311.59,825.95" stroke="#8a8a8a" stroke-width="1.5"/><path d="M275.31,825.95 L279.85,828.57" stroke="#8a8a8a" stroke-width="1.5"/><path d="M279.85,828.57 L284.38,831.19" stroke="#3040c0" stroke-width="1.5"/><path d="M329.73,794.54 L334.26,797.16" stroke="#8a8a8a" stroke-width="1.5"/><path d="M334.26,797.16 L338.8,799.78" stroke="#8a8a8a" stroke-width="1.5"/><path d="M311.59,763.13 L316.12,765.75" stroke="#8a8a8a" stroke-width="1.5"/><path d="M316.12,765.75 L320.66,768.37" stroke="#8a8a8a" stroke-width="1.5"/><path d="M239.03,794.54 L243.56,797.16" stroke="#8a8a8a" stroke-width="1.5"/><path d="M243.56,797.16 L248.1,799.78" stroke="#8a8a8a" stroke-width="1.5"/><path d="M248.1,799.78 L248.1,805.01" stroke="#8a8a8a" stroke-width="1.5"/><path d="M248.1,805.01 L248.1,810.25" stroke="#8a8a8a" stroke-width="1.5"/><path d="M239.03,784.07 L243.56,781.45" stroke="#8a8a8a" stroke-width="1.5"/><path d="M243.56,781.45 L248.1,778.84" stroke="#8a8a8a" stroke-width="1.5"/><path d="M347.87,815.48 L347.87,820.72" stroke="#8a8a8a" stroke-width="1.5"/><path d="M347.87,820.72 L347.87,825.95" stroke="#8a8a8a" stroke-width="1.5"/><path d="M229.07,797.78 L234.05,796.16" stroke="#8a8a8a" stroke-width="1.5"/><path d="M234.05,796.16 L239.03,794.54" stroke="#8a8a8a" stroke-width="1.5"/><path d="M329.73,815.48 L334.26,812.86" stroke="#8a8a8a" stroke-width="1.5"/><path d="M334.26,812.86 L338.8,810.25" stroke="#8a8a8a" stroke-width="1.5"/><path d="M248.1,810.25 L252.64,812.86" stroke="#8a8a8a" stroke-width="1.5"/><path d="M252.64,812.86 L257.17,815.48" stroke="#8a8a8a" stroke-width="1.5"/><path d="M329.73,763.13 L334.26,765.75" stroke="#3040c0" stroke-width="1.5"/><path d="M334.26,765.75 L338.8,768.37" stroke="#8a8a8a" stroke-width="1.5"/><path d="M257.17,763.13 L261.71,765.75" stroke="#8a8a8a" stroke-width="1.5"/><path d="M261.71,765.75 L266.24,768.37" stroke="#8a8a8a" stroke-width="1.5"/><path d="M338.8,768.37 L338.8,773.6" stroke="#8a8a8a" stroke-width="1.5"/><path d="M338.8,773.6 L338.8,778.84" stroke="#8a8a8a" stroke-width="1.5"/><path d="M248.1,799.78 L252.63,797.16" stroke="#8a8a8a" stroke-width="1.5"/><path d="M252.63,797.16 L257.17,794.54" stroke="#8a8a8a" stroke-width="1.5"/><path d="M284.38,799.78 L284.38,805.01" stroke="#8a8a8a" stroke-width="1.5"/><path d="M284.38,805.01 L284.38,810.25" stroke="#8a8a8a" stroke-width="1.5"/><path d="M248.1,768.37 L248.1,773.6" stroke="#8a8a8a" stroke-width="1.5"/><path d="M248.1,773.6 L248.1,778.84" stroke="#8a8a8a" stroke-width="1.5"/><path d="M275.31,763.13 L279.85,765.75" stroke="#3040c0" stroke-width="1.5"/><path d="M279.85,765.75 L284.38,768.37" stroke="#8a8a8a" stroke-width="1.5"/><path d="M257.17,815.48 L261.71,812.86" stroke="#8a8a8a" stroke-width="1.5"/><path d="M261.71,812.86 L266.24,810.25" stroke="#3040c0" stroke-width="1.5"/><path d="M239.03,825.95 L243.56,828.57" stroke="#8a8a8a" stroke-width="1.5"/><path d="M243.56,828.57 L248.1,831.19" stroke="#8a8a8a" stroke-width="1.5"/><path d="M257.17,815.48 L257.17,820.72" stroke="#8a8a8a" stroke-width="1.5"/><path d="M257.17,820.72 L257.17,825.95" stroke="#8a8a8a" stroke-width="1.5"/><path d="M257.17,825.95 L261.71,828.57" stroke="#8a8a8a" stroke-width="1.5"/><path d="M261.71,828.57 L266.24,831.19" stroke="#8a8a8a" stroke-width="1.5"/><path d="M257.17,784.07 L261.71,781.45" stroke="#8a8a8a" stroke-width="1.5"/><path d="M261.71,781.45 L266.24,778.84" stroke="#8a8a8a" stroke-width="1.5"/><path d="M329.73,784.07 L329.73,789.31" stroke="#8a8a8a" stroke-width="1.5"/><path d="M329.73,789.31 L329.73,794.54" stroke="#8a8a8a" stroke-width="1.5"/><path d="M338.8,831.19 L343.34,828.57" stroke="#8a8a8a" stroke-width="1.5"/><path d="M343.34,828.57 L347.87,825.95" stroke="#8a8a8a" stroke-width="1.5"/><path d="M329.73,825.95 L334.26,828.57" stroke="#8a8a8a" stroke-width="1.5"/><path d="M334.26,828.57 L338.8,831.19" stroke="#8a8a8a" stroke-width="1.5"/><path d="M293.45,815.48 L297.99,812.86" stroke="#8a8a8a" stroke-width="1.5"/><path d="M297.99,812.86 L302.52,810.25" stroke="#3040c0" stroke-width="1.5"/><path d="M248.1,778.84 L252.64,781.45" stroke="#8a8a8a" stroke-width="1.5"/><path d="M252.64,781.45 L257.17,784.07" stroke="#8a8a8a" stroke-width="1.5"/><path d="M356.04,809.2 L358.92,805.27" stroke="#b09020" stroke-width="1.5"/><path d="M358.92,805.27 L361.8,801.35" stroke="#c02020" stroke-width="1.5"/><path d="M229.07,812.24 L234.05,813.86" stroke="#8a8a8a" stroke-width="1.5"/><path d="M234.05,813.86 L239.03,815.48" stroke="#8a8a8a" stroke-width="1.5"/><path d="M320.66,799.78 L325.19,797.16" stroke="#8a8a8a" stroke-width="1.5"/><path d="M325.19,797.16 L329.73,794.54" stroke="#8a8a8a" stroke-width="1.5"/><path d="M356.04,809.2 L361.27,811.03" stroke="#b09020" stroke-width="1.5"/><path d="M361.27,811.03 L366.51,812.86" stroke="#c02020" stroke-width="1.5"/><g stroke="#ffffff" stroke-opacity="0.45" stroke-width="0.5"><path d="M293.45,794.54 L302.52,799.78"/><path d="M275.31,815.48 L284.38,810.25"/><path d="M222.92,820.72 L229.07,812.24"/><path d="M293.45,815.48 L293.45,825.95"/><path d="M266.24,799.78 L266.24,810.25"/><path d="M222.92,789.31 L229.07,797.78"/><path d="M266.24,831.19 L275.31,825.95"/><path d="M311.59,794.54 L320.66,799.78"/><path d="M311.59,784.07 L320.66,778.84"/><path d="M284.38,768.37 L293.45,763.13"/><path d="M329.73,815.48 L329.73,825.95"/><path d="M293.45,763.13 L302.52,768.37"/><path d="M347.87,784.07 L356.04,777.79"/><path d="M302.52,799.78 L302.52,810.25"/><path d="M266.24,768.37 L275.31,763.13"/><path d="M302.52,778.84 L311.59,784.07"/><path d="M311.59,784.07 L311.59,794.54"/><path d="M320.66,831.19 L329.73,825.95"/><path d="M229.07,780.83 L239.03,784.07"/><path d="M329.73,784.07 L338.8,778.84"/><path d="M329.73,752.63 L329.73,763.13"/><path d="M311.59,825.95 L320.66,831.19"/><path d="M284.38,778.84 L293.45,784.07"/><path d="M229.07,829.19 L239.03,825.95"/><path d="M248.1,768.37 L257.17,763.13"/><path d="M248.1,831.19 L257.17,825.95"/><path d="M284.38,768.37 L284.38,778.84"/><path d="M320.66,831.19 L320.66,843.26"/><path d="M275.31,815.48 L275.31,825.95"/><path d="M284.38,799.78 L293.45,794.54"/><path d="M320.66,778.84 L329.73,784.07"/><path d="M347.87,815.48 L356.04,809.2"/><path d="M222.92,820.72 L229.07,829.19"/><path d="M284.38,810.25 L293.45,815.48"/><path d="M257.17,794.54 L266.24,799.78"/><path d="M239.03,815.48 L239.03,825.95"/><path d="M266.24,768.37 L266.24,778.84"/><path d="M302.52,799.78 L311.59,794.54"/><path d="M320.66,768.37 L320.66,778.84"/><path d="M293.45,784.07 L302.52,778.84"/><path d="M347.87,784.07 L347.87,794.54"/><path d="M356.04,777.79 L361.8,769.94"/><path d="M338.8,810.25 L347.87,815.48"/><path d="M293.45,784.07 L293.45,794.54"/><path d="M257.17,784.07 L257.17,794.54"/><path d="M338.8,799.78 L347.87,794.54"/><path d="M338.8,799.78 L338.8,810.25"/><path d="M302.52,768.37 L302.52,778.84"/><path d="M275.31,784.07 L284.38,778.84"/><path d="M239.03,784.07 L239.03,794.54"/><path d="M266.24,810.25 L275.31,815.48"/><path d="M320.66,810.25 L329.73,815.48"/><path d="M266.24,799.78 L275.31,794.54"/><path d="M338.8,778.84 L347.87,784.07"/><path d="M302.52,768.37 L311.59,763.13"/><path d="M320.66,799.78 L320.66,810.25"/><path d="M284.38,831.19 L293.45,825.95"/><path d="M302.52,810.25 L311.59,815.48"/><path d="M311.59,815.48 L320.66,810.25"/><path d="M266.24,778.84 L275.31,784.07"/><path d="M302.52,831.19 L311.59,825.95"/><path d="M320.66,768.37 L329.73,763.13"/><path d="M275.31,784.07 L275.31,794.54"/><path d="M222.92,789.31 L229.07,780.83"/><path d="M275.31,794.54 L284.38,799.78"/><path d="M239.03,815.48 L248.1,810.25"/><path d="M293.45,825.95 L302.52,831.19"/><path d="M356.04,777.79 L366.51,781.45"/><path d="M311.59,815.48 L311.59,825.95"/><path d="M275.31,825.95 L284.38,831.19"/><path d="M329.73,794.54 L338.8,799.78"/><path d="M311.59,763.13 L320.66,768.37"/><path d="M239.03,794.54 L248.1,799.78"/><path d="M248.1,799.78 L248.1,810.25"/><path d="M239.03,784.07 L248.1,778.84"/><path d="M347.87,815.48 L347.87,825.95"/><path d="M229.07,797.78 L239.03,794.54"/><path d="M329.73,815.48 L338.8,810.25"/><path d="M248.1,810.25 L257.17,815.48"/><path d="M329.73,763.13 L338.8,768.37"/><path d="M257.17,763.13 L266.24,768.37"/><path d="M338.8,768.37 L338.8,778.84"/><path d="M248.1,799.78 L257.17,794.54"/><path d="M284.38,799.78 L284.38,810.25"/><path d="M248.1,768.37 L248.1,778.84"/><path d="M275.31,763.13 L284.38,768.37"/><path d="M257.17,815.48 L266.24,810.25"/><path d="M239.03,825.95 L248.1,831.19"/><path d="M257.17,815.48 L257.17,825.95"/><path d="M257.17,825.95 L266.24,831.19"/><path d="M257.17,784.07 L266.24,778.84"/><path d="M329.73,784.07 L329.73,794.54"/><path d="M338.8,831.19 L347.87,825.95"/><path d="M329.73,825.95 L338.8,831.19"/><path d="M293.45,815.48 L302.52,810.25"/><path d="M248.1,778.84 L257.17,784.07"/><path d="M356.04,809.2 L361.8,801.35"/><path d="M229.07,812.24 L239.03,815.48"/><path d="M320.66,799.78 L329.73,794.54"/><path d="M356.04,809.2 L366.51,812.86"/></g><circle cx="257.17" cy="763.13" r="2.55" fill="url(#aC)"/><circle cx="266.24" cy="768.37" r="2.55" fill="url(#aC)"/><circle cx="266.24" cy="778.84" r="2.55" fill="url(#aC)"/><circle cx="257.17" cy="784.07" r="2.55" fill="url(#aC)"/><circle cx="248.1" cy="778.84" r="2.55" fill="url(#aC)"/><circle cx="248.1" cy="768.37" r="2.55" fill="url(#aC)"/><circle cx="275.31" cy="763.13" r="2.55" fill="url(#aN)"/><circle cx="284.38" cy="768.37" r="2.55" fill="url(#aC)"/><circle cx="284.38" cy="778.84" r="2.55" fill="url(#aC)"/><circle cx="275.31" cy="784.07" r="2.55" fill="url(#aC)"/><circle cx="293.45" cy="763.13" r="2.55" fill="url(#aC)"/><circle cx="302.52" cy="768.37" r="2.55" fill="url(#aC)"/><circle cx="302.52" cy="778.84" r="2.55" fill="url(#aC)"/><circle cx="293.45" cy="784.07" r="2.55" fill="url(#aN)"/><circle cx="311.59" cy="763.13" r="2.55" fill="url(#aC)"/><circle cx="320.66" cy="768.37" r="2.55" fill="url(#aC)"/><circle cx="320.66" cy="778.84" r="2.55" fill="url(#aC)"/><circle cx="311.59" cy="784.07" r="2.55" fill="url(#aC)"/><circle cx="329.73" cy="763.13" r="2.55" fill="url(#aN)"/><circle cx="338.8" cy="768.37" r="2.55" fill="url(#aC)"/><circle cx="338.8" cy="778.84" r="2.55" fill="url(#aC)"/><circle cx="329.73" cy="784.07" r="2.55" fill="url(#aC)"/><circle cx="257.17" cy="794.54" r="2.55" fill="url(#aC)"/><circle cx="248.1" cy="799.78" r="2.55" fill="url(#aC)"/><circle cx="239.03" cy="794.54" r="2.55" fill="url(#aC)"/><circle cx="239.03" cy="784.07" r="2.55" fill="url(#aC)"/><circle cx="275.31" cy="794.54" r="2.55" fill="url(#aC)"/><circle cx="266.24" cy="799.78" r="2.55" fill="url(#aC)"/><circle cx="293.45" cy="794.54" r="2.55" fill="url(#aC)"/><circle cx="284.38" cy="799.78" r="2.55" fill="url(#aC)"/><circle cx="311.59" cy="794.54" r="2.55" fill="url(#aC)"/><circle cx="302.52" cy="799.78" r="2.55" fill="url(#aC)"/><circle cx="329.73" cy="794.54" r="2.55" fill="url(#aC)"/><circle cx="320.66" cy="799.78" r="2.55" fill="url(#aC)"/><circle cx="347.87" cy="784.07" r="2.55" fill="url(#aC)"/><circle cx="347.87" cy="794.54" r="2.55" fill="url(#aC)"/><circle cx="338.8" cy="799.78" r="2.55" fill="url(#aC)"/><circle cx="266.24" cy="810.25" r="2.55" fill="url(#aN)"/><circle cx="257.17" cy="815.48" r="2.55" fill="url(#aC)"/><circle cx="248.1" cy="810.25" r="2.55" fill="url(#aC)"/><circle cx="284.38" cy="810.25" r="2.55" fill="url(#aC)"/><circle cx="275.31" cy="815.48" r="2.55" fill="url(#aC)"/><circle cx="302.52" cy="810.25" r="2.55" fill="url(#aN)"/><circle cx="293.45" cy="815.48" r="2.55" fill="url(#aC)"/><circle cx="320.66" cy="810.25" r="2.55" fill="url(#aC)"/><circle cx="311.59" cy="815.48" r="2.55" fill="url(#aC)"/><circle cx="338.8" cy="810.25" r="2.55" fill="url(#aC)"/><circle cx="329.73" cy="815.48" r="2.55" fill="url(#aC)"/><circle cx="257.17" cy="825.95" r="2.55" fill="url(#aC)"/><circle cx="248.1" cy="831.19" r="2.55" fill="url(#aC)"/><circle cx="239.03" cy="825.95" r="2.55" fill="url(#aC)"/><circle cx="239.03" cy="815.48" r="2.55" fill="url(#aC)"/><circle cx="275.31" cy="825.95" r="2.55" fill="url(#aC)"/><circle cx="266.24" cy="831.19" r="2.55" fill="url(#aC)"/><circle cx="293.45" cy="825.95" r="2.55" fill="url(#aC)"/><circle cx="284.38" cy="831.19" r="2.55" fill="url(#aN)"/><circle cx="311.59" cy="825.95" r="2.55" fill="url(#aC)"/><circle cx="302.52" cy="831.19" r="2.55" fill="url(#aC)"/><circle cx="329.73" cy="825.95" r="2.55" fill="url(#aC)"/><circle cx="320.66" cy="831.19" r="2.55" fill="url(#aN)"/><circle cx="347.87" cy="815.48" r="2.55" fill="url(#aC)"/><circle cx="347.87" cy="825.95" r="2.55" fill="url(#aC)"/><circle cx="338.8" cy="831.19" r="2.55" fill="url(#aC)"/><circle cx="329.73" cy="752.63" r="2.55" fill="url(#aO)"/><circle cx="320.66" cy="843.26" r="2.55" fill="url(#aO)"/><circle cx="229.07" cy="797.78" r="2.55" fill="url(#aC)"/><circle cx="222.92" cy="789.31" r="2.55" fill="url(#aS)"/><circle cx="229.07" cy="780.83" r="2.55" fill="url(#aC)"/><circle cx="229.07" cy="829.19" r="2.55" fill="url(#aC)"/><circle cx="222.92" cy="820.72" r="2.55" fill="url(#aN)"/><circle cx="229.07" cy="812.24" r="2.55" fill="url(#aC)"/><circle cx="356.04" cy="777.79" r="2.55" fill="url(#aS)"/><circle cx="361.8" cy="769.94" r="2.55" fill="url(#aO)"/><circle cx="366.51" cy="781.45" r="2.55" fill="url(#aO)"/><circle cx="356.04" cy="809.2" r="2.55" fill="url(#aS)"/><circle cx="361.8" cy="801.35" r="2.55" fill="url(#aO)"/><circle cx="366.51" cy="812.86" r="2.55" fill="url(#aO)"/></g>
<g><path d="M233.9,644.93 L233.9,649.65" stroke="#c02020" stroke-width="1.5"/><path d="M233.9,649.65 L233.9,654.38" stroke="#8a8a8a" stroke-width="1.5"/><path d="M233.9,654.38 L238.3,656.81" stroke="#8a8a8a" stroke-width="1.5"/><path d="M238.3,656.81 L242.7,659.25" stroke="#8a8a8a" stroke-width="1.5"/><path d="M333.45,683.5 L337.57,685.92" stroke="#8a8a8a" stroke-width="1.5"/><path d="M337.57,685.92 L341.7,688.35" stroke="#8a8a8a" stroke-width="1.5"/><path d="M275.7,698.05 L279.82,700.48" stroke="#8a8a8a" stroke-width="1.5"/><path d="M279.82,700.48 L283.95,702.9" stroke="#8a8a8a" stroke-width="1.5"/><path d="M333.43,644.93 L333.44,649.66" stroke="#c02020" stroke-width="1.5"/><path d="M333.44,649.66 L333.45,654.4" stroke="#8a8a8a" stroke-width="1.5"/><path d="M308.86,726.82 L311.06,727.45" stroke="#c02020" stroke-width="1.5"/><path d="M311.06,727.45 L313.27,728.08" stroke="#d0d0d0" stroke-width="1.5"/><path d="M250.95,654.4 L255.07,656.83" stroke="#8a8a8a" stroke-width="1.5"/><path d="M255.07,656.83 L259.2,659.25" stroke="#8a8a8a" stroke-width="1.5"/><path d="M316.95,702.9 L321.07,700.48" stroke="#8a8a8a" stroke-width="1.5"/><path d="M321.07,700.48 L325.2,698.05" stroke="#8a8a8a" stroke-width="1.5"/><path d="M291.85,721.15 L292.03,719.3" stroke="#d0d0d0" stroke-width="1.5"/><path d="M292.03,719.3 L292.2,717.45" stroke="#8a8a8a" stroke-width="1.5"/><path d="M349.95,712.6 L351.77,713.41" stroke="#8a8a8a" stroke-width="1.5"/><path d="M351.77,713.41 L353.58,714.22" stroke="#d0d0d0" stroke-width="1.5"/><path d="M221.93,651.86 L223.5,654.38" stroke="#d0d0d0" stroke-width="1.5"/><path d="M223.5,654.38 L225.08,656.9" stroke="#c02020" stroke-width="1.5"/><path d="M292.2,688.35 L292.2,693.2" stroke="#8a8a8a" stroke-width="1.5"/><path d="M292.2,693.2 L292.2,698.05" stroke="#8a8a8a" stroke-width="1.5"/><path d="M358.62,668.87 L362.72,671.39" stroke="#8a8a8a" stroke-width="1.5"/><path d="M362.72,671.39 L366.81,673.91" stroke="#c02020" stroke-width="1.5"/><path d="M365.55,708.55 L366.18,705.72" stroke="#d0d0d0" stroke-width="1.5"/><path d="M366.18,705.72 L366.81,702.88" stroke="#c02020" stroke-width="1.5"/><path d="M259.2,698.05 L263.32,700.48" stroke="#8a8a8a" stroke-width="1.5"/><path d="M263.32,700.48 L267.45,702.9" stroke="#8a8a8a" stroke-width="1.5"/><path d="M325.2,698.05 L329.32,700.48" stroke="#8a8a8a" stroke-width="1.5"/><path d="M329.32,700.48 L333.45,702.9" stroke="#8a8a8a" stroke-width="1.5"/><path d="M267.45,683.5 L271.57,685.92" stroke="#8a8a8a" stroke-width="1.5"/><path d="M271.57,685.92 L275.7,688.35" stroke="#8a8a8a" stroke-width="1.5"/><path d="M333.45,654.4 L337.57,656.83" stroke="#8a8a8a" stroke-width="1.5"/><path d="M337.57,656.83 L341.7,659.25" stroke="#8a8a8a" stroke-width="1.5"/><path d="M267.45,654.4 L271.57,656.83" stroke="#8a8a8a" stroke-width="1.5"/><path d="M271.57,656.83 L275.7,659.25" stroke="#8a8a8a" stroke-width="1.5"/><path d="M267.28,650.6 L267.37,652.5" stroke="#d0d0d0" stroke-width="1.5"/><path d="M267.37,652.5 L267.45,654.4" stroke="#8a8a8a" stroke-width="1.5"/><path d="M325.2,659.25 L329.32,656.83" stroke="#8a8a8a" stroke-width="1.5"/><path d="M329.32,656.83 L333.45,654.4" stroke="#8a8a8a" stroke-width="1.5"/><path d="M250.91,650.6 L250.93,652.5" stroke="#d0d0d0" stroke-width="1.5"/><path d="M250.93,652.5 L250.95,654.4" stroke="#8a8a8a" stroke-width="1.5"/><path d="M267.45,702.9 L271.57,700.48" stroke="#8a8a8a" stroke-width="1.5"/><path d="M271.57,700.48 L275.7,698.05" stroke="#8a8a8a" stroke-width="1.5"/><path d="M358.62,688.39 L358.62,693.12" stroke="#c02020" stroke-width="1.5"/><path d="M358.62,693.12 L358.62,697.84" stroke="#8a8a8a" stroke-width="1.5"/><path d="M325.2,659.25 L325.2,664.1" stroke="#8a8a8a" stroke-width="1.5"/><path d="M325.2,664.1 L325.2,668.95" stroke="#8a8a8a" stroke-width="1.5"/><path d="M267.45,673.8 L267.45,678.65" stroke="#8a8a8a" stroke-width="1.5"/><path d="M267.45,678.65 L267.45,683.5" stroke="#8a8a8a" stroke-width="1.5"/><path d="M225.08,685.87 L229.49,684.61" stroke="#c02020" stroke-width="1.5"/><path d="M229.49,684.61 L233.9,683.35" stroke="#8a8a8a" stroke-width="1.5"/><path d="M333.45,702.9 L337.57,700.48" stroke="#8a8a8a" stroke-width="1.5"/><path d="M337.57,700.48 L341.7,698.05" stroke="#8a8a8a" stroke-width="1.5"/><path d="M283.66,644.93 L283.81,649.66" stroke="#c02020" stroke-width="1.5"/><path d="M283.81,649.66 L283.95,654.4" stroke="#8a8a8a" stroke-width="1.5"/><path d="M300.45,654.4 L304.57,656.83" stroke="#8a8a8a" stroke-width="1.5"/><path d="M304.57,656.83 L308.7,659.25" stroke="#8a8a8a" stroke-width="1.5"/><path d="M341.7,659.25 L343.55,658.07" stroke="#8a8a8a" stroke-width="1.5"/><path d="M343.55,658.07 L345.39,656.9" stroke="#d0d0d0" stroke-width="1.5"/><path d="M333.45,673.8 L337.57,671.38" stroke="#8a8a8a" stroke-width="1.5"/><path d="M337.57,671.38 L341.7,668.95" stroke="#8a8a8a" stroke-width="1.5"/><path d="M333.45,702.9 L333.45,707.75" stroke="#8a8a8a" stroke-width="1.5"/><path d="M333.45,707.75 L333.45,712.6" stroke="#8a8a8a" stroke-width="1.5"/><path d="M250.95,702.9 L255.07,700.48" stroke="#8a8a8a" stroke-width="1.5"/><path d="M255.07,700.48 L259.2,698.05" stroke="#8a8a8a" stroke-width="1.5"/><path d="M341.7,688.35 L345.82,685.92" stroke="#8a8a8a" stroke-width="1.5"/><path d="M345.82,685.92 L349.95,683.5" stroke="#8a8a8a" stroke-width="1.5"/><path d="M333.45,673.8 L333.45,678.65" stroke="#8a8a8a" stroke-width="1.5"/><path d="M333.45,678.65 L333.45,683.5" stroke="#8a8a8a" stroke-width="1.5"/><path d="M300.45,702.9 L304.57,700.48" stroke="#8a8a8a" stroke-width="1.5"/><path d="M304.57,700.48 L308.7,698.05" stroke="#8a8a8a" stroke-width="1.5"/><path d="M349.95,673.8 L354.29,671.33" stroke="#8a8a8a" stroke-width="1.5"/><path d="M354.29,671.33 L358.62,668.87" stroke="#8a8a8a" stroke-width="1.5"/><path d="M316.95,712.6 L321.07,715.03" stroke="#8a8a8a" stroke-width="1.5"/><path d="M321.07,715.03 L325.2,717.45" stroke="#8a8a8a" stroke-width="1.5"/><path d="M275.47,726.82 L277.99,727.45" stroke="#c02020" stroke-width="1.5"/><path d="M277.99,727.45 L280.51,728.08" stroke="#d0d0d0" stroke-width="1.5"/><path d="M300.45,673.8 L304.57,671.38" stroke="#8a8a8a" stroke-width="1.5"/><path d="M304.57,671.38 L308.7,668.95" stroke="#8a8a8a" stroke-width="1.5"/><path d="M242.7,688.35 L246.82,685.92" stroke="#8a8a8a" stroke-width="1.5"/><path d="M246.82,685.92 L250.95,683.5" stroke="#8a8a8a" stroke-width="1.5"/><path d="M328.39,643.67 L330.91,644.3" stroke="#d0d0d0" stroke-width="1.5"/><path d="M330.91,644.3 L333.43,644.93" stroke="#c02020" stroke-width="1.5"/><path d="M308.7,668.95 L312.82,671.38" stroke="#8a8a8a" stroke-width="1.5"/><path d="M312.82,671.38 L316.95,673.8" stroke="#8a8a8a" stroke-width="1.5"/><path d="M300.45,702.9 L300.45,707.75" stroke="#8a8a8a" stroke-width="1.5"/><path d="M300.45,707.75 L300.45,712.6" stroke="#8a8a8a" stroke-width="1.5"/><path d="M358.62,660.05 L358.62,664.46" stroke="#c02020" stroke-width="1.5"/><path d="M358.62,664.46 L358.62,668.87" stroke="#8a8a8a" stroke-width="1.5"/><path d="M283.66,692.8 L285.55,691.23" stroke="#c02020" stroke-width="1.5"/><path d="M285.55,691.23 L287.44,689.65" stroke="#d0d0d0" stroke-width="1.5"/><path d="M242.7,659.25 L246.82,656.83" stroke="#8a8a8a" stroke-width="1.5"/><path d="M246.82,656.83 L250.95,654.4" stroke="#8a8a8a" stroke-width="1.5"/><path d="M349.95,702.9 L354.29,700.37" stroke="#8a8a8a" stroke-width="1.5"/><path d="M354.29,700.37 L358.62,697.84" stroke="#8a8a8a" stroke-width="1.5"/><path d="M292.2,659.25 L296.32,656.83" stroke="#8a8a8a" stroke-width="1.5"/><path d="M296.32,656.83 L300.45,654.4" stroke="#8a8a8a" stroke-width="1.5"/><path d="M300.45,673.8 L300.45,678.65" stroke="#8a8a8a" stroke-width="1.5"/><path d="M300.45,678.65 L300.45,683.5" stroke="#8a8a8a" stroke-width="1.5"/><path d="M242.7,688.35 L242.7,693.2" stroke="#8a8a8a" stroke-width="1.5"/><path d="M242.7,693.2 L242.7,698.05" stroke="#8a8a8a" stroke-width="1.5"/><path d="M242.7,659.25 L242.7,664.1" stroke="#8a8a8a" stroke-width="1.5"/><path d="M242.7,664.1 L242.7,668.95" stroke="#8a8a8a" stroke-width="1.5"/><path d="M300.45,683.5 L304.57,685.92" stroke="#8a8a8a" stroke-width="1.5"/><path d="M304.57,685.92 L308.7,688.35" stroke="#8a8a8a" stroke-width="1.5"/><path d="M308.7,717.45 L312.82,715.03" stroke="#8a8a8a" stroke-width="1.5"/><path d="M312.82,715.03 L316.95,712.6" stroke="#8a8a8a" stroke-width="1.5"/><path d="M242.7,668.95 L246.82,671.38" stroke="#8a8a8a" stroke-width="1.5"/><path d="M246.82,671.38 L250.95,673.8" stroke="#8a8a8a" stroke-width="1.5"/><path d="M283.95,683.5 L288.07,685.92" stroke="#8a8a8a" stroke-width="1.5"/><path d="M288.07,685.92 L292.2,688.35" stroke="#8a8a8a" stroke-width="1.5"/><path d="M292.2,717.45 L296.32,715.03" stroke="#8a8a8a" stroke-width="1.5"/><path d="M296.32,715.03 L300.45,712.6" stroke="#8a8a8a" stroke-width="1.5"/><path d="M283.95,654.4 L288.07,656.83" stroke="#8a8a8a" stroke-width="1.5"/><path d="M288.07,656.83 L292.2,659.25" stroke="#8a8a8a" stroke-width="1.5"/><path d="M292.2,698.05 L296.32,700.48" stroke="#8a8a8a" stroke-width="1.5"/><path d="M296.32,700.48 L300.45,702.9" stroke="#8a8a8a" stroke-width="1.5"/><path d="M341.7,698.05 L345.82,700.48" stroke="#8a8a8a" stroke-width="1.5"/><path d="M345.82,700.48 L349.95,702.9" stroke="#8a8a8a" stroke-width="1.5"/><path d="M275.7,688.35 L279.82,685.92" stroke="#8a8a8a" stroke-width="1.5"/><path d="M279.82,685.92 L283.95,683.5" stroke="#8a8a8a" stroke-width="1.5"/><path d="M349.95,683.5 L351.77,684.69" stroke="#8a8a8a" stroke-width="1.5"/><path d="M351.77,684.69 L353.58,685.87" stroke="#d0d0d0" stroke-width="1.5"/><path d="M275.7,659.25 L279.82,656.83" stroke="#8a8a8a" stroke-width="1.5"/><path d="M279.82,656.83 L283.95,654.4" stroke="#8a8a8a" stroke-width="1.5"/><path d="M267.45,702.9 L267.45,707.75" stroke="#8a8a8a" stroke-width="1.5"/><path d="M267.45,707.75 L267.45,712.6" stroke="#8a8a8a" stroke-width="1.5"/><path d="M275.47,726.82 L275.59,722.13" stroke="#c02020" stroke-width="1.5"/><path d="M275.59,722.13 L275.7,717.45" stroke="#8a8a8a" stroke-width="1.5"/><path d="M275.7,688.35 L275.7,693.2" stroke="#8a8a8a" stroke-width="1.5"/><path d="M275.7,693.2 L275.7,698.05" stroke="#8a8a8a" stroke-width="1.5"/><path d="M333.45,712.6 L337.57,715.03" stroke="#8a8a8a" stroke-width="1.5"/><path d="M337.57,715.03 L341.7,717.45" stroke="#8a8a8a" stroke-width="1.5"/><path d="M283.95,673.8 L288.22,675.11" stroke="#8a8a8a" stroke-width="1.5"/><path d="M288.22,675.11 L292.48,676.43" stroke="#c02020" stroke-width="1.5"/><path d="M275.7,659.25 L275.7,664.1" stroke="#8a8a8a" stroke-width="1.5"/><path d="M275.7,664.1 L275.7,668.95" stroke="#8a8a8a" stroke-width="1.5"/><path d="M278.62,643.67 L281.14,644.3" stroke="#d0d0d0" stroke-width="1.5"/><path d="M281.14,644.3 L283.66,644.93" stroke="#c02020" stroke-width="1.5"/><path d="M325.24,726.82 L327.44,727.45" stroke="#c02020" stroke-width="1.5"/><path d="M327.44,727.45 L329.65,728.08" stroke="#d0d0d0" stroke-width="1.5"/><path d="M325.2,668.95 L329.32,671.38" stroke="#8a8a8a" stroke-width="1.5"/><path d="M329.32,671.38 L333.45,673.8" stroke="#8a8a8a" stroke-width="1.5"/><path d="M283.95,702.9 L288.07,700.48" stroke="#8a8a8a" stroke-width="1.5"/><path d="M288.07,700.48 L292.2,698.05" stroke="#8a8a8a" stroke-width="1.5"/><path d="M358.62,697.84 L362.72,700.36" stroke="#8a8a8a" stroke-width="1.5"/><path d="M362.72,700.36 L366.81,702.88" stroke="#c02020" stroke-width="1.5"/><path d="M250.95,712.6 L255.07,715.03" stroke="#8a8a8a" stroke-width="1.5"/><path d="M255.07,715.03 L259.2,717.45" stroke="#8a8a8a" stroke-width="1.5"/><path d="M341.7,717.45 L341.97,719.3" stroke="#8a8a8a" stroke-width="1.5"/><path d="M341.97,719.3 L342.24,721.15" stroke="#d0d0d0" stroke-width="1.5"/><path d="M317.05,650.6 L317,652.5" stroke="#d0d0d0" stroke-width="1.5"/><path d="M317,652.5 L316.95,654.4" stroke="#8a8a8a" stroke-width="1.5"/><path d="M283.95,702.9 L283.95,707.75" stroke="#8a8a8a" stroke-width="1.5"/><path d="M283.95,707.75 L283.95,712.6" stroke="#8a8a8a" stroke-width="1.5"/><path d="M308.7,698.05 L312.82,700.48" stroke="#8a8a8a" stroke-width="1.5"/><path d="M312.82,700.48 L316.95,702.9" stroke="#8a8a8a" stroke-width="1.5"/><path d="M259.72,707.29 L263.59,705.1" stroke="#c02020" stroke-width="1.5"/><path d="M263.59,705.1 L267.45,702.9" stroke="#8a8a8a" stroke-width="1.5"/><path d="M325.2,717.45 L329.32,715.03" stroke="#8a8a8a" stroke-width="1.5"/><path d="M329.32,715.03 L333.45,712.6" stroke="#8a8a8a" stroke-width="1.5"/><path d="M316.95,702.9 L316.95,707.75" stroke="#8a8a8a" stroke-width="1.5"/><path d="M316.95,707.75 L316.95,712.6" stroke="#8a8a8a" stroke-width="1.5"/><path d="M316.95,673.8 L316.95,678.65" stroke="#8a8a8a" stroke-width="1.5"/><path d="M316.95,678.65 L316.95,683.5" stroke="#8a8a8a" stroke-width="1.5"/><path d="M325.2,688.35 L329.32,685.92" stroke="#8a8a8a" stroke-width="1.5"/><path d="M329.32,685.92 L333.45,683.5" stroke="#8a8a8a" stroke-width="1.5"/><path d="M292.2,688.35 L296.32,685.92" stroke="#8a8a8a" stroke-width="1.5"/><path d="M296.32,685.92 L300.45,683.5" stroke="#8a8a8a" stroke-width="1.5"/><path d="M259.2,668.95 L263.32,671.38" stroke="#8a8a8a" stroke-width="1.5"/><path d="M263.32,671.38 L267.45,673.8" stroke="#8a8a8a" stroke-width="1.5"/><path d="M325.2,688.35 L325.2,693.2" stroke="#8a8a8a" stroke-width="1.5"/><path d="M325.2,693.2 L325.2,698.05" stroke="#8a8a8a" stroke-width="1.5"/><path d="M242.7,698.05 L246.82,700.48" stroke="#8a8a8a" stroke-width="1.5"/><path d="M246.82,700.48 L250.95,702.9" stroke="#8a8a8a" stroke-width="1.5"/><path d="M267.45,712.6 L271.57,715.03" stroke="#8a8a8a" stroke-width="1.5"/><path d="M271.57,715.03 L275.7,717.45" stroke="#8a8a8a" stroke-width="1.5"/><path d="M250.95,673.8 L250.95,678.65" stroke="#8a8a8a" stroke-width="1.5"/><path d="M250.95,678.65 L250.95,683.5" stroke="#8a8a8a" stroke-width="1.5"/><path d="M238.31,700.36 L240.5,699.21" stroke="#d0d0d0" stroke-width="1.5"/><path d="M240.5,699.21 L242.7,698.05" stroke="#8a8a8a" stroke-width="1.5"/><path d="M349.95,673.8 L349.95,678.65" stroke="#8a8a8a" stroke-width="1.5"/><path d="M349.95,678.65 L349.95,683.5" stroke="#8a8a8a" stroke-width="1.5"/><path d="M308.7,688.35 L312.82,685.92" stroke="#8a8a8a" stroke-width="1.5"/><path d="M312.82,685.92 L316.95,683.5" stroke="#8a8a8a" stroke-width="1.5"/><path d="M316.95,683.5 L321.07,685.92" stroke="#8a8a8a" stroke-width="1.5"/><path d="M321.07,685.92 L325.2,688.35" stroke="#8a8a8a" stroke-width="1.5"/><path d="M308.7,659.25 L312.82,656.83" stroke="#8a8a8a" stroke-width="1.5"/><path d="M312.82,656.83 L316.95,654.4" stroke="#8a8a8a" stroke-width="1.5"/><path d="M233.9,683.35 L238.3,685.85" stroke="#8a8a8a" stroke-width="1.5"/><path d="M238.3,685.85 L242.7,688.35" stroke="#8a8a8a" stroke-width="1.5"/><path d="M316.95,654.4 L321.07,656.83" stroke="#8a8a8a" stroke-width="1.5"/><path d="M321.07,656.83 L325.2,659.25" stroke="#8a8a8a" stroke-width="1.5"/><path d="M247.13,714.22 L249.04,713.41" stroke="#d0d0d0" stroke-width="1.5"/><path d="M249.04,713.41 L250.95,712.6" stroke="#8a8a8a" stroke-width="1.5"/><path d="M308.7,688.35 L308.7,693.2" stroke="#8a8a8a" stroke-width="1.5"/><path d="M308.7,693.2 L308.7,698.05" stroke="#8a8a8a" stroke-width="1.5"/><path d="M308.7,659.25 L308.7,664.1" stroke="#8a8a8a" stroke-width="1.5"/><path d="M308.7,664.1 L308.7,668.95" stroke="#8a8a8a" stroke-width="1.5"/><path d="M349.95,702.9 L349.95,707.75" stroke="#8a8a8a" stroke-width="1.5"/><path d="M349.95,707.75 L349.95,712.6" stroke="#8a8a8a" stroke-width="1.5"/><path d="M250.95,683.5 L255.07,685.92" stroke="#8a8a8a" stroke-width="1.5"/><path d="M255.07,685.92 L259.2,688.35" stroke="#8a8a8a" stroke-width="1.5"/><path d="M238.31,671.39 L240.5,670.17" stroke="#d0d0d0" stroke-width="1.5"/><path d="M240.5,670.17 L242.7,668.95" stroke="#8a8a8a" stroke-width="1.5"/><path d="M267.45,673.8 L272.09,675.11" stroke="#8a8a8a" stroke-width="1.5"/><path d="M272.09,675.11 L276.73,676.43" stroke="#c02020" stroke-width="1.5"/><path d="M283.95,712.6 L288.07,715.03" stroke="#8a8a8a" stroke-width="1.5"/><path d="M288.07,715.03 L292.2,717.45" stroke="#8a8a8a" stroke-width="1.5"/><path d="M300.45,654.4 L300.56,649.66" stroke="#8a8a8a" stroke-width="1.5"/><path d="M300.56,649.66 L300.67,644.93" stroke="#c02020" stroke-width="1.5"/><path d="M259.2,717.45 L263.32,715.03" stroke="#8a8a8a" stroke-width="1.5"/><path d="M263.32,715.03 L267.45,712.6" stroke="#8a8a8a" stroke-width="1.5"/><path d="M250.95,702.9 L250.95,707.75" stroke="#8a8a8a" stroke-width="1.5"/><path d="M250.95,707.75 L250.95,712.6" stroke="#8a8a8a" stroke-width="1.5"/><path d="M292.2,668.95 L296.32,671.38" stroke="#8a8a8a" stroke-width="1.5"/><path d="M296.32,671.38 L300.45,673.8" stroke="#8a8a8a" stroke-width="1.5"/><path d="M341.7,688.35 L341.7,693.2" stroke="#8a8a8a" stroke-width="1.5"/><path d="M341.7,693.2 L341.7,698.05" stroke="#8a8a8a" stroke-width="1.5"/><path d="M275.7,668.95 L279.82,671.38" stroke="#8a8a8a" stroke-width="1.5"/><path d="M279.82,671.38 L283.95,673.8" stroke="#8a8a8a" stroke-width="1.5"/><path d="M316.95,673.8 L321.07,671.38" stroke="#8a8a8a" stroke-width="1.5"/><path d="M321.07,671.38 L325.2,668.95" stroke="#8a8a8a" stroke-width="1.5"/><path d="M259.2,688.35 L263.32,685.92" stroke="#8a8a8a" stroke-width="1.5"/><path d="M263.32,685.92 L267.45,683.5" stroke="#8a8a8a" stroke-width="1.5"/><path d="M325.2,717.45 L325.22,722.13" stroke="#8a8a8a" stroke-width="1.5"/><path d="M325.22,722.13 L325.24,726.82" stroke="#c02020" stroke-width="1.5"/><path d="M341.7,659.25 L341.7,664.1" stroke="#8a8a8a" stroke-width="1.5"/><path d="M341.7,664.1 L341.7,668.95" stroke="#8a8a8a" stroke-width="1.5"/><path d="M275.7,688.35 L279.68,690.58" stroke="#8a8a8a" stroke-width="1.5"/><path d="M279.68,690.58 L283.66,692.8" stroke="#c02020" stroke-width="1.5"/><path d="M259.2,659.25 L263.32,656.83" stroke="#8a8a8a" stroke-width="1.5"/><path d="M263.32,656.83 L267.45,654.4" stroke="#8a8a8a" stroke-width="1.5"/><path d="M317.05,692.8 L321.12,690.58" stroke="#c02020" stroke-width="1.5"/><path d="M321.12,690.58 L325.2,688.35" stroke="#8a8a8a" stroke-width="1.5"/><path d="M283.95,673.8 L288.07,671.38" stroke="#8a8a8a" stroke-width="1.5"/><path d="M288.07,671.38 L292.2,668.95" stroke="#8a8a8a" stroke-width="1.5"/><path d="M300.45,683.5 L304.97,682.48" stroke="#8a8a8a" stroke-width="1.5"/><path d="M304.97,682.48 L309.49,681.46" stroke="#c02020" stroke-width="1.5"/><path d="M365.55,679.57 L366.18,676.74" stroke="#d0d0d0" stroke-width="1.5"/><path d="M366.18,676.74 L366.81,673.91" stroke="#c02020" stroke-width="1.5"/><path d="M259.2,688.35 L259.2,693.2" stroke="#8a8a8a" stroke-width="1.5"/><path d="M259.2,693.2 L259.2,698.05" stroke="#8a8a8a" stroke-width="1.5"/><path d="M341.7,717.45 L345.82,715.03" stroke="#8a8a8a" stroke-width="1.5"/><path d="M345.82,715.03 L349.95,712.6" stroke="#8a8a8a" stroke-width="1.5"/><path d="M259.2,659.25 L259.2,664.1" stroke="#8a8a8a" stroke-width="1.5"/><path d="M259.2,664.1 L259.2,668.95" stroke="#8a8a8a" stroke-width="1.5"/><path d="M275.7,717.45 L279.82,715.03" stroke="#8a8a8a" stroke-width="1.5"/><path d="M279.82,715.03 L283.95,712.6" stroke="#8a8a8a" stroke-width="1.5"/><path d="M283.95,673.8 L283.95,678.65" stroke="#8a8a8a" stroke-width="1.5"/><path d="M283.95,678.65 L283.95,683.5" stroke="#8a8a8a" stroke-width="1.5"/><path d="M233.9,673.91 L233.9,678.63" stroke="#c02020" stroke-width="1.5"/><path d="M233.9,678.63 L233.9,683.35" stroke="#8a8a8a" stroke-width="1.5"/><path d="M221.93,680.83 L223.5,683.35" stroke="#d0d0d0" stroke-width="1.5"/><path d="M223.5,683.35 L225.08,685.87" stroke="#c02020" stroke-width="1.5"/><path d="M308.7,717.45 L308.78,722.13" stroke="#8a8a8a" stroke-width="1.5"/><path d="M308.78,722.13 L308.86,726.82" stroke="#c02020" stroke-width="1.5"/><path d="M300.45,712.6 L304.57,715.03" stroke="#8a8a8a" stroke-width="1.5"/><path d="M304.57,715.03 L308.7,717.45" stroke="#8a8a8a" stroke-width="1.5"/><path d="M250.95,673.8 L255.07,671.38" stroke="#8a8a8a" stroke-width="1.5"/><path d="M255.07,671.38 L259.2,668.95" stroke="#8a8a8a" stroke-width="1.5"/><path d="M225.08,656.9 L229.49,655.64" stroke="#c02020" stroke-width="1.5"/><path d="M229.49,655.64 L233.9,654.38" stroke="#8a8a8a" stroke-width="1.5"/><path d="M259.09,721.15 L259.15,719.3" stroke="#d0d0d0" stroke-width="1.5"/><path d="M259.15,719.3 L259.2,717.45" stroke="#8a8a8a" stroke-width="1.5"/><path d="M292.48,676.43 L292.8,678.94" stroke="#c02020" stroke-width="1.5"/><path d="M292.8,678.94 L293.11,681.46" stroke="#d0d0d0" stroke-width="1.5"/><path d="M267.45,673.8 L271.57,671.38" stroke="#8a8a8a" stroke-width="1.5"/><path d="M271.57,671.38 L275.7,668.95" stroke="#8a8a8a" stroke-width="1.5"/><path d="M341.7,668.95 L345.82,671.38" stroke="#8a8a8a" stroke-width="1.5"/><path d="M345.82,671.38 L349.95,673.8" stroke="#8a8a8a" stroke-width="1.5"/><path d="M292.2,659.25 L292.2,664.1" stroke="#8a8a8a" stroke-width="1.5"/><path d="M292.2,664.1 L292.2,668.95" stroke="#8a8a8a" stroke-width="1.5"/><path d="M295.63,643.67 L298.15,644.3" stroke="#d0d0d0" stroke-width="1.5"/><path d="M298.15,644.3 L300.67,644.93" stroke="#c02020" stroke-width="1.5"/><g stroke="#ffffff" stroke-opacity="0.45" stroke-width="0.5"><path d="M233.9,644.93 L233.9,654.38"/><path d="M233.9,654.38 L242.7,659.25"/><path d="M333.45,683.5 L341.7,688.35"/><path d="M275.7,698.05 L283.95,702.9"/><path d="M333.43,644.93 L333.45,654.4"/><path d="M308.86,726.82 L313.27,728.08"/><path d="M250.95,654.4 L259.2,659.25"/><path d="M316.95,702.9 L325.2,698.05"/><path d="M291.85,721.15 L292.2,717.45"/><path d="M349.95,712.6 L353.58,714.22"/><path d="M221.93,651.86 L225.08,656.9"/><path d="M292.2,688.35 L292.2,698.05"/><path d="M358.62,668.87 L366.81,673.91"/><path d="M365.55,708.55 L366.81,702.88"/><path d="M259.2,698.05 L267.45,702.9"/><path d="M325.2,698.05 L333.45,702.9"/><path d="M267.45,683.5 L275.7,688.35"/><path d="M333.45,654.4 L341.7,659.25"/><path d="M267.45,654.4 L275.7,659.25"/><path d="M267.28,650.6 L267.45,654.4"/><path d="M325.2,659.25 L333.45,654.4"/><path d="M250.91,650.6 L250.95,654.4"/><path d="M267.45,702.9 L275.7,698.05"/><path d="M358.62,688.39 L358.62,697.84"/><path d="M325.2,659.25 L325.2,668.95"/><path d="M267.45,673.8 L267.45,683.5"/><path d="M225.08,685.87 L233.9,683.35"/><path d="M333.45,702.9 L341.7,698.05"/><path d="M283.66,644.93 L283.95,654.4"/><path d="M300.45,654.4 L308.7,659.25"/><path d="M341.7,659.25 L345.39,656.9"/><path d="M333.45,673.8 L341.7,668.95"/><path d="M333.45,702.9 L333.45,712.6"/><path d="M250.95,702.9 L259.2,698.05"/><path d="M341.7,688.35 L349.95,683.5"/><path d="M333.45,673.8 L333.45,683.5"/><path d="M300.45,702.9 L308.7,698.05"/><path d="M349.95,673.8 L358.62,668.87"/><path d="M316.95,712.6 L325.2,717.45"/><path d="M275.47,726.82 L280.51,728.08"/><path d="M300.45,673.8 L308.7,668.95"/><path d="M242.7,688.35 L250.95,683.5"/><path d="M328.39,643.67 L333.43,644.93"/><path d="M308.7,668.95 L316.95,673.8"/><path d="M300.45,702.9 L300.45,712.6"/><path d="M358.62,660.05 L358.62,668.87"/><path d="M283.66,692.8 L287.44,689.65"/><path d="M242.7,659.25 L250.95,654.4"/><path d="M349.95,702.9 L358.62,697.84"/><path d="M292.2,659.25 L300.45,654.4"/><path d="M300.45,673.8 L300.45,683.5"/><path d="M242.7,688.35 L242.7,698.05"/><path d="M242.7,659.25 L242.7,668.95"/><path d="M300.45,683.5 L308.7,688.35"/><path d="M308.7,717.45 L316.95,712.6"/><path d="M242.7,668.95 L250.95,673.8"/><path d="M283.95,683.5 L292.2,688.35"/><path d="M292.2,717.45 L300.45,712.6"/><path d="M283.95,654.4 L292.2,659.25"/><path d="M292.2,698.05 L300.45,702.9"/><path d="M341.7,698.05 L349.95,702.9"/><path d="M275.7,688.35 L283.95,683.5"/><path d="M349.95,683.5 L353.58,685.87"/><path d="M275.7,659.25 L283.95,654.4"/><path d="M267.45,702.9 L267.45,712.6"/><path d="M275.47,726.82 L275.7,717.45"/><path d="M275.7,688.35 L275.7,698.05"/><path d="M333.45,712.6 L341.7,717.45"/><path d="M283.95,673.8 L292.48,676.43"/><path d="M275.7,659.25 L275.7,668.95"/><path d="M278.62,643.67 L283.66,644.93"/><path d="M325.24,726.82 L329.65,728.08"/><path d="M325.2,668.95 L333.45,673.8"/><path d="M283.95,702.9 L292.2,698.05"/><path d="M358.62,697.84 L366.81,702.88"/><path d="M250.95,712.6 L259.2,717.45"/><path d="M341.7,717.45 L342.24,721.15"/><path d="M317.05,650.6 L316.95,654.4"/><path d="M283.95,702.9 L283.95,712.6"/><path d="M308.7,698.05 L316.95,702.9"/><path d="M259.72,707.29 L267.45,702.9"/><path d="M325.2,717.45 L333.45,712.6"/><path d="M316.95,702.9 L316.95,712.6"/><path d="M316.95,673.8 L316.95,683.5"/><path d="M325.2,688.35 L333.45,683.5"/><path d="M292.2,688.35 L300.45,683.5"/><path d="M259.2,668.95 L267.45,673.8"/><path d="M325.2,688.35 L325.2,698.05"/><path d="M242.7,698.05 L250.95,702.9"/><path d="M267.45,712.6 L275.7,717.45"/><path d="M250.95,673.8 L250.95,683.5"/><path d="M238.31,700.36 L242.7,698.05"/><path d="M349.95,673.8 L349.95,683.5"/><path d="M308.7,688.35 L316.95,683.5"/><path d="M316.95,683.5 L325.2,688.35"/><path d="M308.7,659.25 L316.95,654.4"/><path d="M233.9,683.35 L242.7,688.35"/><path d="M316.95,654.4 L325.2,659.25"/><path d="M247.13,714.22 L250.95,712.6"/><path d="M308.7,688.35 L308.7,698.05"/><path d="M308.7,659.25 L308.7,668.95"/><path d="M349.95,702.9 L349.95,712.6"/><path d="M250.95,683.5 L259.2,688.35"/><path d="M238.31,671.39 L242.7,668.95"/><path d="M267.45,673.8 L276.73,676.43"/><path d="M283.95,712.6 L292.2,717.45"/><path d="M300.45,654.4 L300.67,644.93"/><path d="M259.2,717.45 L267.45,712.6"/><path d="M250.95,702.9 L250.95,712.6"/><path d="M292.2,668.95 L300.45,673.8"/><path d="M341.7,688.35 L341.7,698.05"/><path d="M275.7,668.95 L283.95,673.8"/><path d="M316.95,673.8 L325.2,668.95"/><path d="M259.2,688.35 L267.45,683.5"/><path d="M325.2,717.45 L325.24,726.82"/><path d="M341.7,659.25 L341.7,668.95"/><path d="M275.7,688.35 L283.66,692.8"/><path d="M259.2,659.25 L267.45,654.4"/><path d="M317.05,692.8 L325.2,688.35"/><path d="M283.95,673.8 L292.2,668.95"/><path d="M300.45,683.5 L309.49,681.46"/><path d="M365.55,679.57 L366.81,673.91"/><path d="M259.2,688.35 L259.2,698.05"/><path d="M341.7,717.45 L349.95,712.6"/><path d="M259.2,659.25 L259.2,668.95"/><path d="M275.7,717.45 L283.95,712.6"/><path d="M283.95,673.8 L283.95,683.5"/><path d="M233.9,673.91 L233.9,683.35"/><path d="M221.93,680.83 L225.08,685.87"/><path d="M308.7,717.45 L308.86,726.82"/><path d="M300.45,712.6 L308.7,717.45"/><path d="M250.95,673.8 L259.2,668.95"/><path d="M225.08,656.9 L233.9,654.38"/><path d="M259.09,721.15 L259.2,717.45"/><path d="M292.48,676.43 L293.11,681.46"/><path d="M267.45,673.8 L275.7,668.95"/><path d="M341.7,668.95 L349.95,673.8"/><path d="M292.2,659.25 L292.2,668.95"/><path d="M295.63,643.67 L300.67,644.93"/></g><circle cx="250.95" cy="654.4" r="2.3" fill="url(#aC)"/><circle cx="259.2" cy="659.25" r="2.3" fill="url(#aC)"/><circle cx="259.2" cy="668.95" r="2.3" fill="url(#aC)"/><circle cx="250.95" cy="673.8" r="2.3" fill="url(#aC)"/><circle cx="242.7" cy="668.95" r="2.3" fill="url(#aC)"/><circle cx="242.7" cy="659.25" r="2.3" fill="url(#aC)"/><circle cx="267.45" cy="654.4" r="2.3" fill="url(#aC)"/><circle cx="275.7" cy="659.25" r="2.3" fill="url(#aC)"/><circle cx="275.7" cy="668.95" r="2.3" fill="url(#aC)"/><circle cx="267.45" cy="673.8" r="2.3" fill="url(#aC)"/><circle cx="283.95" cy="654.4" r="2.3" fill="url(#aC)"/><circle cx="292.2" cy="659.25" r="2.3" fill="url(#aC)"/><circle cx="292.2" cy="668.95" r="2.3" fill="url(#aC)"/><circle cx="283.95" cy="673.8" r="2.3" fill="url(#aC)"/><circle cx="300.45" cy="654.4" r="2.3" fill="url(#aC)"/><circle cx="308.7" cy="659.25" r="2.3" fill="url(#aC)"/><circle cx="308.7" cy="668.95" r="2.3" fill="url(#aC)"/><circle cx="300.45" cy="673.8" r="2.3" fill="url(#aC)"/><circle cx="316.95" cy="654.4" r="2.3" fill="url(#aC)"/><circle cx="325.2" cy="659.25" r="2.3" fill="url(#aC)"/><circle cx="325.2" cy="668.95" r="2.3" fill="url(#aC)"/><circle cx="316.95" cy="673.8" r="2.3" fill="url(#aC)"/><circle cx="333.45" cy="654.4" r="2.3" fill="url(#aC)"/><circle cx="341.7" cy="659.25" r="2.3" fill="url(#aC)"/><circle cx="341.7" cy="668.95" r="2.3" fill="url(#aC)"/><circle cx="333.45" cy="673.8" r="2.3" fill="url(#aC)"/><circle cx="267.45" cy="683.5" r="2.3" fill="url(#aC)"/><circle cx="259.2" cy="688.35" r="2.3" fill="url(#aC)"/><circle cx="250.95" cy="683.5" r="2.3" fill="url(#aC)"/><circle cx="283.95" cy="683.5" r="2.3" fill="url(#aC)"/><circle cx="275.7" cy="688.35" r="2.3" fill="url(#aC)"/><circle cx="300.45" cy="683.5" r="2.3" fill="url(#aC)"/><circle cx="292.2" cy="688.35" r="2.3" fill="url(#aC)"/><circle cx="316.95" cy="683.5" r="2.3" fill="url(#aC)"/><circle cx="308.7" cy="688.35" r="2.3" fill="url(#aC)"/><circle cx="333.45" cy="683.5" r="2.3" fill="url(#aC)"/><circle cx="325.2" cy="688.35" r="2.3" fill="url(#aC)"/><circle cx="349.95" cy="673.8" r="2.3" fill="url(#aC)"/><circle cx="349.95" cy="683.5" r="2.3" fill="url(#aC)"/><circle cx="341.7" cy="688.35" r="2.3" fill="url(#aC)"/><circle cx="259.2" cy="698.05" r="2.3" fill="url(#aC)"/><circle cx="250.95" cy="702.9" r="2.3" fill="url(#aC)"/><circle cx="242.7" cy="698.05" r="2.3" fill="url(#aC)"/><circle cx="242.7" cy="688.35" r="2.3" fill="url(#aC)"/><circle cx="275.7" cy="698.05" r="2.3" fill="url(#aC)"/><circle cx="267.45" cy="702.9" r="2.3" fill="url(#aC)"/><circle cx="292.2" cy="698.05" r="2.3" fill="url(#aC)"/><circle cx="283.95" cy="702.9" r="2.3" fill="url(#aC)"/><circle cx="308.7" cy="698.05" r="2.3" fill="url(#aC)"/><circle cx="300.45" cy="702.9" r="2.3" fill="url(#aC)"/><circle cx="325.2" cy="698.05" r="2.3" fill="url(#aC)"/><circle cx="316.95" cy="702.9" r="2.3" fill="url(#aC)"/><circle cx="341.7" cy="698.05" r="2.3" fill="url(#aC)"/><circle cx="333.45" cy="702.9" r="2.3" fill="url(#aC)"/><circle cx="267.45" cy="712.6" r="2.3" fill="url(#aC)"/><circle cx="259.2" cy="717.45" r="2.3" fill="url(#aC)"/><circle cx="250.95" cy="712.6" r="2.3" fill="url(#aC)"/><circle cx="283.95" cy="712.6" r="2.3" fill="url(#aC)"/><circle cx="275.7" cy="717.45" r="2.3" fill="url(#aC)"/><circle cx="300.45" cy="712.6" r="2.3" fill="url(#aC)"/><circle cx="292.2" cy="717.45" r="2.3" fill="url(#aC)"/><circle cx="316.95" cy="712.6" r="2.3" fill="url(#aC)"/><circle cx="308.7" cy="717.45" r="2.3" fill="url(#aC)"/><circle cx="333.45" cy="712.6" r="2.3" fill="url(#aC)"/><circle cx="325.2" cy="717.45" r="2.3" fill="url(#aC)"/><circle cx="349.95" cy="702.9" r="2.3" fill="url(#aC)"/><circle cx="349.95" cy="712.6" r="2.3" fill="url(#aC)"/><circle cx="341.7" cy="717.45" r="2.3" fill="url(#aC)"/><circle cx="233.9" cy="654.38" r="2.3" fill="url(#aC)"/><circle cx="233.9" cy="644.93" r="1.95" fill="url(#aO)"/><circle cx="225.08" cy="656.9" r="1.95" fill="url(#aO)"/><circle cx="221.93" cy="651.86" r="1.4" fill="url(#aH)"/><circle cx="250.91" cy="650.6" r="1.4" fill="url(#aH)"/><circle cx="267.28" cy="650.6" r="1.4" fill="url(#aH)"/><circle cx="317.05" cy="650.6" r="1.4" fill="url(#aH)"/><circle cx="283.66" cy="644.93" r="1.95" fill="url(#aO)"/><circle cx="278.62" cy="643.67" r="1.4" fill="url(#aH)"/><circle cx="300.67" cy="644.93" r="1.95" fill="url(#aO)"/><circle cx="295.63" cy="643.67" r="1.4" fill="url(#aH)"/><circle cx="333.43" cy="644.93" r="1.95" fill="url(#aO)"/><circle cx="328.39" cy="643.67" r="1.4" fill="url(#aH)"/><circle cx="345.39" cy="656.9" r="1.4" fill="url(#aH)"/><circle cx="238.31" cy="671.39" r="1.4" fill="url(#aH)"/><circle cx="233.9" cy="683.35" r="2.3" fill="url(#aC)"/><circle cx="233.9" cy="673.91" r="1.95" fill="url(#aO)"/><circle cx="225.08" cy="685.87" r="1.95" fill="url(#aO)"/><circle cx="221.93" cy="680.83" r="1.4" fill="url(#aH)"/><circle cx="238.31" cy="700.36" r="1.4" fill="url(#aH)"/><circle cx="358.62" cy="668.87" r="2.3" fill="url(#aC)"/><circle cx="358.62" cy="660.05" r="1.95" fill="url(#aO)"/><circle cx="366.81" cy="673.91" r="1.95" fill="url(#aO)"/><circle cx="365.55" cy="679.57" r="1.4" fill="url(#aH)"/><circle cx="353.58" cy="685.87" r="1.4" fill="url(#aH)"/><circle cx="358.62" cy="697.84" r="2.3" fill="url(#aC)"/><circle cx="358.62" cy="688.39" r="1.95" fill="url(#aO)"/><circle cx="366.81" cy="702.88" r="1.95" fill="url(#aO)"/><circle cx="365.55" cy="708.55" r="1.4" fill="url(#aH)"/><circle cx="353.58" cy="714.22" r="1.4" fill="url(#aH)"/><circle cx="342.24" cy="721.15" r="1.4" fill="url(#aH)"/><circle cx="325.24" cy="726.82" r="1.95" fill="url(#aO)"/><circle cx="329.65" cy="728.08" r="1.4" fill="url(#aH)"/><circle cx="308.86" cy="726.82" r="1.95" fill="url(#aO)"/><circle cx="313.27" cy="728.08" r="1.4" fill="url(#aH)"/><circle cx="291.85" cy="721.15" r="1.4" fill="url(#aH)"/><circle cx="275.47" cy="726.82" r="1.95" fill="url(#aO)"/><circle cx="280.51" cy="728.08" r="1.4" fill="url(#aH)"/><circle cx="259.09" cy="721.15" r="1.4" fill="url(#aH)"/><circle cx="247.13" cy="714.22" r="1.4" fill="url(#aH)"/><circle cx="276.73" cy="676.43" r="1.95" fill="url(#aO)"/><circle cx="292.48" cy="676.43" r="1.95" fill="url(#aO)"/><circle cx="293.11" cy="681.46" r="1.4" fill="url(#aH)"/><circle cx="309.49" cy="681.46" r="1.95" fill="url(#aO)"/><circle cx="283.66" cy="692.8" r="1.95" fill="url(#aO)"/><circle cx="287.44" cy="689.65" r="1.4" fill="url(#aH)"/><circle cx="317.05" cy="692.8" r="1.95" fill="url(#aO)"/><circle cx="259.72" cy="707.29" r="1.95" fill="url(#aO)"/></g>
<g font-family="Liberation Sans, sans-serif" font-size="26.6" font-weight="bold" fill="#111"><text x="145.9" y="580.6">NG</text><text x="145.6" y="686">GO</text><text x="145.9" y="805.1">NSG</text></g>
<g font-family="Liberation Sans, sans-serif" font-size="21.2" fill="#111">
<text x="479.4" y="517.1">Lactofen</text>
<text x="569" y="493.7">Fluoroxypyr-</text><text x="592.45" y="515.7">meptyl</text>
<text x="694" y="496.5">Bensulfuron-</text><text x="722.5" y="516.3">methyl</text>
<text x="815.35" y="516.7">Fomesafen</text>
<text x="933.3" y="516.7">Diafenthiuron</text></g></svg></body></html>
